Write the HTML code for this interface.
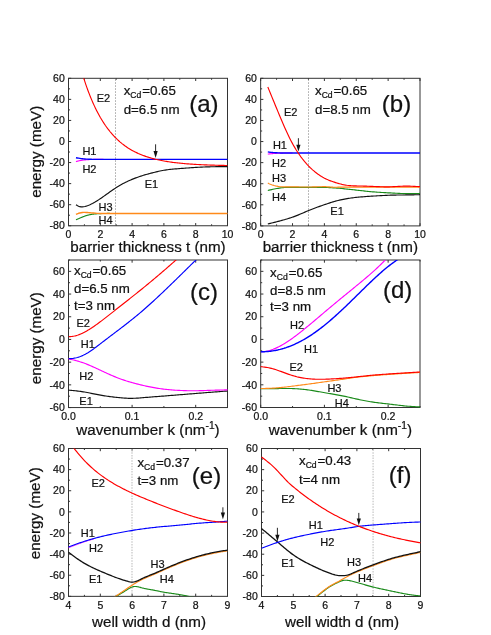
<!DOCTYPE html>
<html><head><meta charset="utf-8"><title>figure</title>
<style>html,body{margin:0;padding:0;background:#fff;}body{width:491px;height:635px;overflow:hidden;font-family:"Liberation Sans", sans-serif;}svg{display:block;will-change:transform;}</style></head>
<body>
<svg width="491" height="635" viewBox="0 0 491 635" font-family='"Liberation Sans", sans-serif' fill="#111">
<style>text{stroke:#111;stroke-width:0.22px;}</style>
<clipPath id="c1"><rect x="68.5" y="78.3" width="159" height="147.45"/></clipPath>
<path d="M68.5 225.75 v-2.7 M68.5 78.3 v2.7 M100.3 225.75 v-2.7 M100.3 78.3 v2.7 M132.1 225.75 v-2.7 M132.1 78.3 v2.7 M163.9 225.75 v-2.7 M163.9 78.3 v2.7 M195.7 225.75 v-2.7 M195.7 78.3 v2.7 M227.5 225.75 v-2.7 M227.5 78.3 v2.7 M84.4 225.75 v-1.5 M84.4 78.3 v1.5 M116.2 225.75 v-1.5 M116.2 78.3 v1.5 M148 225.75 v-1.5 M148 78.3 v1.5 M179.8 225.75 v-1.5 M179.8 78.3 v1.5 M211.6 225.75 v-1.5 M211.6 78.3 v1.5 M68.5 225.75 h2.7 M68.5 204.69 h2.7 M68.5 183.62 h2.7 M68.5 162.56 h2.7 M68.5 141.49 h2.7 M68.5 120.43 h2.7 M68.5 99.36 h2.7 M68.5 78.3 h2.7 M68.5 215.22 h1.5 M68.5 194.15 h1.5 M68.5 173.09 h1.5 M68.5 152.03 h1.5 M68.5 130.96 h1.5 M68.5 109.9 h1.5 M68.5 88.83 h1.5" fill="none" stroke="#333333" stroke-width="1"/>
<rect x="68.5" y="78.3" width="159" height="147.45" fill="none" stroke="#333333" stroke-width="1"/>
<text x="68.5" y="238.05" font-size="10.5" text-anchor="middle">0</text>
<text x="100.3" y="238.05" font-size="10.5" text-anchor="middle">2</text>
<text x="132.1" y="238.05" font-size="10.5" text-anchor="middle">4</text>
<text x="163.9" y="238.05" font-size="10.5" text-anchor="middle">6</text>
<text x="195.7" y="238.05" font-size="10.5" text-anchor="middle">8</text>
<text x="227.5" y="238.05" font-size="10.5" text-anchor="middle">10</text>
<text x="64.8" y="229.45" font-size="10.5" text-anchor="end">-80</text>
<text x="64.8" y="208.39" font-size="10.5" text-anchor="end">-60</text>
<text x="64.8" y="187.32" font-size="10.5" text-anchor="end">-40</text>
<text x="64.8" y="166.26" font-size="10.5" text-anchor="end">-20</text>
<text x="64.8" y="145.19" font-size="10.5" text-anchor="end">0</text>
<text x="64.8" y="124.13" font-size="10.5" text-anchor="end">20</text>
<text x="64.8" y="103.06" font-size="10.5" text-anchor="end">40</text>
<text x="64.8" y="82" font-size="10.5" text-anchor="end">60</text>
<path d="M115.5 79.3 V224.75" stroke="#666" stroke-width="0.6" stroke-dasharray="1.5 1.5" fill="none"/>
<path d="M75.97 161.61 L76.2 161.54 L76.44 161.47 L76.67 161.4 L76.9 161.34 L77.13 161.27 L77.36 161.2 L77.59 161.14 L77.82 161.08 L78.05 161.02 L78.28 160.96 L78.52 160.91 L78.75 160.85 L78.98 160.8 L79.21 160.75 L79.44 160.7 L79.67 160.65 L79.9 160.61 L80.13 160.56 L80.36 160.52 L80.6 160.48 L80.83 160.44 L81.06 160.39 L81.29 160.35 L81.52 160.31 L81.75 160.27 L81.98 160.24 L82.21 160.2 L82.45 160.17 L82.68 160.13 L82.91 160.1 L83.14 160.07 L83.37 160.04 L83.6 160.01 L83.83 159.98 L84.06 159.96 L84.29 159.93 L84.53 159.91 L84.76 159.89 L84.99 159.87 L85.22 159.85 L85.45 159.83 L85.68 159.81 L85.91 159.79 L86.14 159.77 L86.37 159.75 L86.61 159.73 L86.84 159.71 L87.07 159.7 L87.3 159.68 L87.53 159.66 L87.76 159.65 L87.99 159.63 L88.22 159.62 L88.46 159.6 L88.69 159.59 L88.92 159.58 L89.15 159.57 L89.38 159.55 L89.61 159.54 L89.84 159.53 L90.07 159.52 L90.3 159.52 L90.54 159.51 L90.77 159.5 L91 159.5 L91.23 159.49 L91.46 159.48 L91.69 159.48 L91.92 159.47 L92.15 159.47 L92.38 159.46 L92.62 159.46 L92.85 159.45 L93.08 159.45 L93.31 159.44 L93.54 159.44 L93.77 159.43 L94 159.43 L94.23 159.42 L94.47 159.42 L94.7 159.42 L94.93 159.41 L95.16 159.41 L95.39 159.41 L95.62 159.41 L95.85 159.4 L96.08 159.4 L96.31 159.4 L96.55 159.4 L96.78 159.4 L97.01 159.4 L97.24 159.4 L97.47 159.4 L97.7 159.4 L97.93 159.4 L98.16 159.4 L98.39 159.4 L98.63 159.4 L98.86 159.4 L99.09 159.4 L99.32 159.4 L99.55 159.4 L99.78 159.4 L100.01 159.4 L100.24 159.4 L100.48 159.4 L100.71 159.4 L100.94 159.4 L101.17 159.4 L101.4 159.4 L101.63 159.4 L101.86 159.4 L102.09 159.4 L102.32 159.4 L102.56 159.4 L102.79 159.4 L103.02 159.4 L103.25 159.4 L103.48 159.4" fill="none" stroke="#ff00ff" stroke-width="1.15" stroke-linejoin="round"/>
<path d="M75.97 219.85 L76.26 219.72 L76.54 219.58 L76.83 219.45 L77.11 219.32 L77.4 219.19 L77.68 219.06 L77.97 218.93 L78.25 218.8 L78.53 218.67 L78.82 218.55 L79.1 218.42 L79.39 218.3 L79.67 218.18 L79.96 218.05 L80.24 217.94 L80.53 217.82 L80.81 217.7 L81.1 217.58 L81.38 217.47 L81.66 217.36 L81.95 217.24 L82.23 217.12 L82.52 217.01 L82.8 216.89 L83.09 216.77 L83.37 216.66 L83.66 216.54 L83.94 216.43 L84.23 216.32 L84.51 216.21 L84.8 216.1 L85.08 216 L85.36 215.89 L85.65 215.79 L85.93 215.7 L86.22 215.6 L86.5 215.51 L86.79 215.43 L87.07 215.35 L87.36 215.27 L87.64 215.2 L87.93 215.13 L88.21 215.07 L88.5 215 L88.78 214.94 L89.06 214.87 L89.35 214.81 L89.63 214.75 L89.92 214.69 L90.2 214.64 L90.49 214.58 L90.77 214.53 L91.06 214.48 L91.34 214.43 L91.63 214.38 L91.91 214.33 L92.2 214.29 L92.48 214.24 L92.76 214.2 L93.05 214.16 L93.33 214.13 L93.62 214.09 L93.9 214.06 L94.19 214.03 L94.47 214 L94.76 213.97 L95.04 213.95 L95.33 213.92 L95.61 213.89 L95.89 213.87 L96.18 213.84 L96.46 213.81 L96.75 213.79 L97.03 213.77 L97.32 213.75 L97.6 213.72 L97.89 213.7 L98.17 213.69 L98.46 213.67 L98.74 213.65 L99.03 213.64 L99.31 213.62 L99.59 213.61 L99.88 213.6 L100.16 213.59 L100.45 213.58 L100.73 213.57 L101.02 213.57 L101.3 213.56 L101.59 213.55 L101.87 213.54 L102.16 213.54 L102.44 213.53 L102.73 213.52 L103.01 213.52 L103.29 213.51 L103.58 213.5 L103.86 213.5 L104.15 213.49 L104.43 213.48 L104.72 213.48 L105 213.47 L105.29 213.47 L105.57 213.46 L105.86 213.46 L106.14 213.46 L106.42 213.45 L106.71 213.45 L106.99 213.44 L107.28 213.44 L107.56 213.44 L107.85 213.44 L108.13 213.43 L108.42 213.43 L108.7 213.43 L108.99 213.43 L109.27 213.43 L109.56 213.43 L109.84 213.43" fill="none" stroke="#1a8a1a" stroke-width="1.15" stroke-linejoin="round"/>
<path d="M75.97 214.38 L77.25 213.79 L78.52 213.3 L79.79 212.97 L81.07 212.73 L82.34 212.52 L83.61 212.4 L84.89 212.38 L86.16 212.43 L87.43 212.52 L88.71 212.63 L89.98 212.74 L91.25 212.83 L92.53 212.93 L93.8 213.04 L95.07 213.15 L96.35 213.26 L97.62 213.34 L98.89 213.4 L100.17 213.43 L101.44 213.43 L102.71 213.43 L103.99 213.43 L105.26 213.43 L106.53 213.43 L107.81 213.43 L109.08 213.43 L110.35 213.43 L111.63 213.43 L112.9 213.43 L114.17 213.43 L115.45 213.43 L116.72 213.43 L117.99 213.43 L119.27 213.43 L120.54 213.43 L121.81 213.43 L123.09 213.43 L124.36 213.43 L125.63 213.43 L126.91 213.43 L128.18 213.43 L129.45 213.43 L130.73 213.43 L132 213.43 L133.27 213.43 L134.55 213.43 L135.82 213.43 L137.09 213.43 L138.37 213.43 L139.64 213.43 L140.91 213.43 L142.19 213.43 L143.46 213.43 L144.73 213.43 L146.01 213.43 L147.28 213.43 L148.55 213.43 L149.83 213.43 L151.1 213.43 L152.37 213.43 L153.65 213.43 L154.92 213.43 L156.19 213.43 L157.47 213.43 L158.74 213.43 L160.01 213.43 L161.29 213.43 L162.56 213.43 L163.83 213.43 L165.11 213.43 L166.38 213.43 L167.65 213.43 L168.93 213.43 L170.2 213.43 L171.47 213.43 L172.75 213.43 L174.02 213.43 L175.29 213.43 L176.57 213.43 L177.84 213.43 L179.11 213.43 L180.39 213.43 L181.66 213.43 L182.93 213.43 L184.21 213.43 L185.48 213.43 L186.75 213.43 L188.03 213.43 L189.3 213.43 L190.57 213.43 L191.85 213.43 L193.12 213.43 L194.39 213.43 L195.67 213.43 L196.94 213.43 L198.21 213.43 L199.49 213.43 L200.76 213.43 L202.03 213.43 L203.31 213.43 L204.58 213.43 L205.85 213.43 L207.13 213.43 L208.4 213.43 L209.67 213.43 L210.95 213.43 L212.22 213.43 L213.49 213.43 L214.77 213.43 L216.04 213.43 L217.31 213.43 L218.59 213.43 L219.86 213.43 L221.13 213.43 L222.41 213.43 L223.68 213.43 L224.95 213.43 L226.23 213.43 L227.5 213.43" fill="none" stroke="#ff8a1a" stroke-width="1.4" stroke-linejoin="round"/>
<path d="M75.97 204.69 L77.25 205.53 L78.52 206.23 L79.79 206.68 L81.07 206.88 L82.34 206.88 L83.61 206.73 L84.89 206.46 L86.16 206.11 L87.43 205.69 L88.71 205.2 L89.98 204.66 L91.25 204.07 L92.53 203.43 L93.8 202.74 L95.07 202.02 L96.35 201.25 L97.62 200.46 L98.89 199.64 L100.17 198.79 L101.44 197.92 L102.71 197.04 L103.99 196.14 L105.26 195.23 L106.53 194.32 L107.81 193.41 L109.08 192.5 L110.35 191.59 L111.63 190.7 L112.9 189.82 L114.17 188.95 L115.45 188.11 L116.72 187.29 L117.99 186.5 L119.27 185.74 L120.54 185 L121.81 184.29 L123.09 183.6 L124.36 182.93 L125.63 182.29 L126.91 181.67 L128.18 181.07 L129.45 180.49 L130.73 179.94 L132 179.4 L133.27 178.88 L134.55 178.37 L135.82 177.89 L137.09 177.42 L138.37 176.97 L139.64 176.53 L140.91 176.11 L142.19 175.7 L143.46 175.3 L144.73 174.92 L146.01 174.54 L147.28 174.18 L148.55 173.83 L149.83 173.49 L151.1 173.15 L152.37 172.82 L153.65 172.5 L154.92 172.19 L156.19 171.88 L157.47 171.58 L158.74 171.29 L160.01 171.01 L161.29 170.74 L162.56 170.5 L163.83 170.27 L165.11 170.06 L166.38 169.87 L167.65 169.7 L168.93 169.54 L170.2 169.39 L171.47 169.26 L172.75 169.13 L174.02 169.02 L175.29 168.91 L176.57 168.81 L177.84 168.71 L179.11 168.61 L180.39 168.52 L181.66 168.42 L182.93 168.33 L184.21 168.23 L185.48 168.14 L186.75 168.04 L188.03 167.95 L189.3 167.85 L190.57 167.76 L191.85 167.67 L193.12 167.59 L194.39 167.5 L195.67 167.42 L196.94 167.34 L198.21 167.27 L199.49 167.2 L200.76 167.14 L202.03 167.08 L203.31 167.02 L204.58 166.97 L205.85 166.93 L207.13 166.89 L208.4 166.85 L209.67 166.81 L210.95 166.78 L212.22 166.75 L213.49 166.73 L214.77 166.7 L216.04 166.68 L217.31 166.66 L218.59 166.65 L219.86 166.63 L221.13 166.62 L222.41 166.6 L223.68 166.59 L224.95 166.58 L226.23 166.57 L227.5 166.56" fill="none" stroke="#111111" stroke-width="1.15" stroke-linejoin="round"/>
<path d="M75.97 157.71 L77.25 157.95 L78.52 158.17 L79.79 158.37 L81.07 158.57 L82.34 158.75 L83.61 158.91 L84.89 159.01 L86.16 159.09 L87.43 159.17 L88.71 159.22 L89.98 159.27 L91.25 159.3 L92.53 159.33 L93.8 159.36 L95.07 159.38 L96.35 159.4 L97.62 159.4 L98.89 159.4 L100.17 159.4 L101.44 159.4 L102.71 159.4 L103.99 159.4 L105.26 159.4 L106.53 159.4 L107.81 159.4 L109.08 159.4 L110.35 159.4 L111.63 159.4 L112.9 159.4 L114.17 159.4 L115.45 159.4 L116.72 159.4 L117.99 159.4 L119.27 159.4 L120.54 159.4 L121.81 159.4 L123.09 159.4 L124.36 159.4 L125.63 159.4 L126.91 159.4 L128.18 159.4 L129.45 159.4 L130.73 159.4 L132 159.4 L133.27 159.4 L134.55 159.4 L135.82 159.4 L137.09 159.4 L138.37 159.4 L139.64 159.4 L140.91 159.4 L142.19 159.4 L143.46 159.4 L144.73 159.4 L146.01 159.4 L147.28 159.4 L148.55 159.4 L149.83 159.4 L151.1 159.4 L152.37 159.4 L153.65 159.4 L154.92 159.4 L156.19 159.4 L157.47 159.4 L158.74 159.4 L160.01 159.4 L161.29 159.4 L162.56 159.4 L163.83 159.4 L165.11 159.4 L166.38 159.4 L167.65 159.4 L168.93 159.4 L170.2 159.4 L171.47 159.4 L172.75 159.4 L174.02 159.4 L175.29 159.4 L176.57 159.4 L177.84 159.4 L179.11 159.4 L180.39 159.4 L181.66 159.4 L182.93 159.4 L184.21 159.4 L185.48 159.4 L186.75 159.4 L188.03 159.4 L189.3 159.4 L190.57 159.4 L191.85 159.4 L193.12 159.4 L194.39 159.4 L195.67 159.4 L196.94 159.4 L198.21 159.4 L199.49 159.4 L200.76 159.4 L202.03 159.4 L203.31 159.4 L204.58 159.4 L205.85 159.4 L207.13 159.4 L208.4 159.4 L209.67 159.4 L210.95 159.4 L212.22 159.4 L213.49 159.4 L214.77 159.4 L216.04 159.4 L217.31 159.4 L218.59 159.4 L219.86 159.4 L221.13 159.4 L222.41 159.4 L223.68 159.4 L224.95 159.4 L226.23 159.4 L227.5 159.4" fill="none" stroke="#0000ff" stroke-width="1.4" stroke-linejoin="round"/>
<path d="M82.02 72.66 L83.24 76.61 L84.46 80.45 L85.68 84.11 L86.91 87.59 L88.13 90.93 L89.35 94.14 L90.57 97.2 L91.8 100.14 L93.02 102.95 L94.24 105.63 L95.46 108.21 L96.69 110.67 L97.91 113.03 L99.13 115.29 L100.35 117.46 L101.58 119.53 L102.8 121.51 L104.02 123.41 L105.24 125.22 L106.47 126.96 L107.69 128.63 L108.91 130.22 L110.13 131.75 L111.36 133.21 L112.58 134.61 L113.8 135.95 L115.02 137.23 L116.25 138.46 L117.47 139.64 L118.69 140.76 L119.91 141.84 L121.14 142.87 L122.36 143.86 L123.58 144.8 L124.8 145.71 L126.03 146.57 L127.25 147.4 L128.47 148.2 L129.69 148.96 L130.92 149.69 L132.14 150.38 L133.36 151.05 L134.59 151.69 L135.81 152.3 L137.03 152.89 L138.25 153.45 L139.48 153.98 L140.7 154.5 L141.92 154.99 L143.14 155.46 L144.37 155.91 L145.59 156.34 L146.81 156.75 L148.03 157.15 L149.26 157.53 L150.48 157.89 L151.7 158.24 L152.92 158.57 L154.15 158.89 L155.37 159.19 L156.59 159.48 L157.81 159.76 L159.04 160.03 L160.26 160.29 L161.48 160.53 L162.7 160.77 L163.93 160.99 L165.15 161.21 L166.37 161.41 L167.59 161.61 L168.82 161.8 L170.04 161.98 L171.26 162.15 L172.48 162.32 L173.71 162.47 L174.93 162.63 L176.15 162.77 L177.37 162.91 L178.6 163.04 L179.82 163.17 L181.04 163.29 L182.27 163.41 L183.49 163.52 L184.71 163.63 L185.93 163.73 L187.16 163.83 L188.38 163.92 L189.6 164.01 L190.82 164.1 L192.05 164.18 L193.27 164.26 L194.49 164.34 L195.71 164.41 L196.94 164.48 L198.16 164.54 L199.38 164.61 L200.6 164.67 L201.83 164.73 L203.05 164.78 L204.27 164.84 L205.49 164.89 L206.72 164.94 L207.94 164.98 L209.16 165.03 L210.38 165.07 L211.61 165.11 L212.83 165.15 L214.05 165.19 L215.27 165.22 L216.5 165.26 L217.72 165.29 L218.94 165.32 L220.16 165.35 L221.39 165.38 L222.61 165.41 L223.83 165.44 L225.05 165.46 L226.28 165.49 L227.5 165.51" fill="none" stroke="#ff0000" stroke-width="1.15" stroke-linejoin="round" clip-path="url(#c1)"/>
<path d="M155.6 144.3 V152.9" stroke="#111" stroke-width="0.9" fill="none"/>
<path d="M155.6 157.9 L153.5 151.1 L157.7 151.1 Z" fill="#111"/>
<text x="123.7" y="94.6" font-size="13.3" text-anchor="start">x<tspan font-size="8.6" dy="3.3">Cd</tspan><tspan dy="-3.3" dx="0.9">=0.65</tspan></text>
<text x="123.7" y="113.6" font-size="13.3" text-anchor="start">d=6.5 nm</text>
<text x="189.2" y="112.1" font-size="24" text-anchor="start">(a)</text>
<text x="96.7" y="102.1" font-size="11" text-anchor="start">E2</text>
<text x="82.4" y="154.7" font-size="11" text-anchor="start">H1</text>
<text x="82.4" y="173.4" font-size="11" text-anchor="start">H2</text>
<text x="98.5" y="210.6" font-size="11" text-anchor="start">H3</text>
<text x="98.5" y="224.4" font-size="11" text-anchor="start">H4</text>
<text x="144.7" y="188.3" font-size="11" text-anchor="start">E1</text>
<text x="148" y="251.6" font-size="15.2" text-anchor="middle">barrier thickness t (nm)</text>
<clipPath id="c2"><rect x="260.65" y="78.3" width="159.35" height="147.6"/></clipPath>
<path d="M260.65 225.9 v-2.7 M260.65 78.3 v2.7 M292.52 225.9 v-2.7 M292.52 78.3 v2.7 M324.39 225.9 v-2.7 M324.39 78.3 v2.7 M356.26 225.9 v-2.7 M356.26 78.3 v2.7 M388.13 225.9 v-2.7 M388.13 78.3 v2.7 M420 225.9 v-2.7 M420 78.3 v2.7 M276.58 225.9 v-1.5 M276.58 78.3 v1.5 M308.45 225.9 v-1.5 M308.45 78.3 v1.5 M340.32 225.9 v-1.5 M340.32 78.3 v1.5 M372.19 225.9 v-1.5 M372.19 78.3 v1.5 M404.06 225.9 v-1.5 M404.06 78.3 v1.5 M260.65 225.9 h2.7 M260.65 204.81 h2.7 M260.65 183.73 h2.7 M260.65 162.64 h2.7 M260.65 141.56 h2.7 M260.65 120.47 h2.7 M260.65 99.39 h2.7 M260.65 78.3 h2.7 M260.65 215.36 h1.5 M260.65 194.27 h1.5 M260.65 173.19 h1.5 M260.65 152.1 h1.5 M260.65 131.01 h1.5 M260.65 109.93 h1.5 M260.65 88.84 h1.5" fill="none" stroke="#333333" stroke-width="1"/>
<rect x="260.65" y="78.3" width="159.35" height="147.6" fill="none" stroke="#333333" stroke-width="1"/>
<text x="260.65" y="238.2" font-size="10.5" text-anchor="middle">0</text>
<text x="292.52" y="238.2" font-size="10.5" text-anchor="middle">2</text>
<text x="324.39" y="238.2" font-size="10.5" text-anchor="middle">4</text>
<text x="356.26" y="238.2" font-size="10.5" text-anchor="middle">6</text>
<text x="388.13" y="238.2" font-size="10.5" text-anchor="middle">8</text>
<text x="420" y="238.2" font-size="10.5" text-anchor="middle">10</text>
<text x="256.95" y="229.6" font-size="10.5" text-anchor="end">-80</text>
<text x="256.95" y="208.51" font-size="10.5" text-anchor="end">-60</text>
<text x="256.95" y="187.43" font-size="10.5" text-anchor="end">-40</text>
<text x="256.95" y="166.34" font-size="10.5" text-anchor="end">-20</text>
<text x="256.95" y="145.26" font-size="10.5" text-anchor="end">0</text>
<text x="256.95" y="124.17" font-size="10.5" text-anchor="end">20</text>
<text x="256.95" y="103.09" font-size="10.5" text-anchor="end">40</text>
<text x="256.95" y="82" font-size="10.5" text-anchor="end">60</text>
<path d="M308.5 79.3 V224.9" stroke="#666" stroke-width="0.6" stroke-dasharray="1.5 1.5" fill="none"/>
<path d="M267.82 154.1 L268.03 154.08 L268.24 154.05 L268.44 154.03 L268.65 154 L268.86 153.98 L269.07 153.95 L269.27 153.93 L269.48 153.9 L269.69 153.88 L269.9 153.86 L270.1 153.83 L270.31 153.81 L270.52 153.79 L270.73 153.77 L270.93 153.74 L271.14 153.72 L271.35 153.7 L271.56 153.68 L271.76 153.66 L271.97 153.64 L272.18 153.62 L272.39 153.61 L272.59 153.59 L272.8 153.57 L273.01 153.55 L273.22 153.54 L273.42 153.52 L273.63 153.51 L273.84 153.49 L274.05 153.48 L274.26 153.46 L274.46 153.45 L274.67 153.43 L274.88 153.42 L275.09 153.4 L275.29 153.39 L275.5 153.37 L275.71 153.36 L275.92 153.35 L276.12 153.33 L276.33 153.32 L276.54 153.31 L276.75 153.3 L276.95 153.29 L277.16 153.27 L277.37 153.26 L277.58 153.25 L277.78 153.24 L277.99 153.23 L278.2 153.22 L278.41 153.21 L278.61 153.2 L278.82 153.19 L279.03 153.18 L279.24 153.17 L279.44 153.17 L279.65 153.16 L279.86 153.15 L280.07 153.14 L280.27 153.14 L280.48 153.13 L280.69 153.12 L280.9 153.11 L281.1 153.11 L281.31 153.1 L281.52 153.09 L281.73 153.09 L281.93 153.08 L282.14 153.07 L282.35 153.07 L282.56 153.06 L282.76 153.05 L282.97 153.05 L283.18 153.04 L283.39 153.04 L283.6 153.03 L283.8 153.03 L284.01 153.02 L284.22 153.02 L284.43 153.01 L284.63 153.01 L284.84 153.01 L285.05 153 L285.26 153 L285.46 153 L285.67 153 L285.88 153 L286.09 153 L286.29 153 L286.5 153 L286.71 153 L286.92 153 L287.12 153 L287.33 153 L287.54 153 L287.75 153 L287.95 153 L288.16 153 L288.37 153 L288.58 153 L288.78 153 L288.99 153 L289.2 153 L289.41 153 L289.61 153 L289.82 153 L290.03 153 L290.24 153 L290.44 153 L290.65 153 L290.86 153 L291.07 153 L291.27 153 L291.48 153 L291.69 153 L291.9 153 L292.1 153 L292.31 153 L292.52 153" fill="none" stroke="#ff00ff" stroke-width="1.15" stroke-linejoin="round"/>
<path d="M267.82 190.48 L269.1 190.16 L270.38 189.86 L271.66 189.58 L272.94 189.31 L274.21 189.04 L275.49 188.79 L276.77 188.54 L278.05 188.31 L279.33 188.11 L280.61 187.94 L281.89 187.77 L283.17 187.62 L284.45 187.5 L285.72 187.43 L287 187.41 L288.28 187.39 L289.56 187.37 L290.84 187.36 L292.12 187.35 L293.4 187.34 L294.68 187.33 L295.95 187.32 L297.23 187.32 L298.51 187.31 L299.79 187.31 L301.07 187.31 L302.35 187.31 L303.63 187.31 L304.91 187.32 L306.19 187.32 L307.46 187.32 L308.74 187.33 L310.02 187.33 L311.3 187.33 L312.58 187.34 L313.86 187.35 L315.14 187.35 L316.42 187.36 L317.69 187.37 L318.97 187.38 L320.25 187.38 L321.53 187.39 L322.81 187.4 L324.09 187.42 L325.37 187.43 L326.65 187.47 L327.93 187.52 L329.2 187.58 L330.48 187.66 L331.76 187.74 L333.04 187.82 L334.32 187.91 L335.6 187.99 L336.88 188.09 L338.16 188.19 L339.43 188.3 L340.71 188.42 L341.99 188.55 L343.27 188.68 L344.55 188.81 L345.83 188.95 L347.11 189.09 L348.39 189.23 L349.67 189.37 L350.94 189.51 L352.22 189.65 L353.5 189.78 L354.78 189.92 L356.06 190.06 L357.34 190.2 L358.62 190.35 L359.9 190.5 L361.17 190.65 L362.45 190.8 L363.73 190.94 L365.01 191.09 L366.29 191.23 L367.57 191.36 L368.85 191.49 L370.13 191.61 L371.4 191.72 L372.68 191.82 L373.96 191.92 L375.24 192.01 L376.52 192.11 L377.8 192.2 L379.08 192.28 L380.36 192.37 L381.64 192.45 L382.91 192.53 L384.19 192.6 L385.47 192.68 L386.75 192.75 L388.03 192.82 L389.31 192.88 L390.59 192.94 L391.87 193.01 L393.14 193.08 L394.42 193.15 L395.7 193.22 L396.98 193.28 L398.26 193.35 L399.54 193.41 L400.82 193.46 L402.1 193.51 L403.38 193.56 L404.65 193.59 L405.93 193.62 L407.21 193.63 L408.49 193.64 L409.77 193.64 L411.05 193.63 L412.33 193.62 L413.61 193.6 L414.88 193.58 L416.16 193.55 L417.44 193.52 L418.72 193.48 L420 193.43" fill="none" stroke="#1a8a1a" stroke-width="1.15" stroke-linejoin="round"/>
<path d="M267.82 183.1 L269.1 183.7 L270.38 184.25 L271.66 184.73 L272.94 185.17 L274.21 185.57 L275.49 185.92 L276.77 186.19 L278.05 186.42 L279.33 186.62 L280.61 186.75 L281.89 186.8 L283.17 186.82 L284.45 186.83 L285.72 186.85 L287 186.86 L288.28 186.86 L289.56 186.87 L290.84 186.88 L292.12 186.89 L293.4 186.9 L294.68 186.91 L295.95 186.92 L297.23 186.93 L298.51 186.94 L299.79 186.95 L301.07 186.96 L302.35 186.97 L303.63 186.98 L304.91 186.99 L306.19 186.99 L307.46 187 L308.74 187 L310.02 186.99 L311.3 186.97 L312.58 186.94 L313.86 186.91 L315.14 186.88 L316.42 186.84 L317.69 186.8 L318.97 186.77 L320.25 186.73 L321.53 186.71 L322.81 186.69 L324.09 186.68 L325.37 186.69 L326.65 186.74 L327.93 186.82 L329.2 186.91 L330.48 187.01 L331.76 187.09 L333.04 187.16 L334.32 187.2 L335.6 187.21 L336.88 187.2 L338.16 187.19 L339.43 187.18 L340.71 187.17 L341.99 187.15 L343.27 187.14 L344.55 187.12 L345.83 187.11 L347.11 187.1 L348.39 187.1 L349.67 187.1 L350.94 187.1 L352.22 187.1 L353.5 187.1 L354.78 187.1 L356.06 187.1 L357.34 187.1 L358.62 187.1 L359.9 187.1 L361.17 187.1 L362.45 187.1 L363.73 187.1 L365.01 187.1 L366.29 187.1 L367.57 187.1 L368.85 187.1 L370.13 187.1 L371.4 187.1 L372.68 187.1 L373.96 187.1 L375.24 187.1 L376.52 187.1 L377.8 187.1 L379.08 187.1 L380.36 187.1 L381.64 187.1 L382.91 187.1 L384.19 187.1 L385.47 187.1 L386.75 187.1 L388.03 187.1 L389.31 187.1 L390.59 187.1 L391.87 187.1 L393.14 187.1 L394.42 187.1 L395.7 187.1 L396.98 187.1 L398.26 187.1 L399.54 187.1 L400.82 187.1 L402.1 187.1 L403.38 187.1 L404.65 187.1 L405.93 187.1 L407.21 187.1 L408.49 187.1 L409.77 187.1 L411.05 187.1 L412.33 187.1 L413.61 187.1 L414.88 187.1 L416.16 187.1 L417.44 187.1 L418.72 187.1 L420 187.1" fill="none" stroke="#ff8a1a" stroke-width="1.15" stroke-linejoin="round"/>
<path d="M267.82 224 L269.1 223.68 L270.38 223.37 L271.66 223.05 L272.94 222.72 L274.21 222.4 L275.49 222.07 L276.77 221.75 L278.05 221.41 L279.33 221.08 L280.61 220.73 L281.89 220.39 L283.17 220.03 L284.45 219.68 L285.72 219.31 L287 218.93 L288.28 218.54 L289.56 218.14 L290.84 217.72 L292.12 217.29 L293.4 216.85 L294.68 216.38 L295.95 215.89 L297.23 215.39 L298.51 214.87 L299.79 214.33 L301.07 213.79 L302.35 213.23 L303.63 212.68 L304.91 212.12 L306.19 211.57 L307.46 211.03 L308.74 210.49 L310.02 209.97 L311.3 209.46 L312.58 208.96 L313.86 208.47 L315.14 207.99 L316.42 207.52 L317.69 207.06 L318.97 206.6 L320.25 206.14 L321.53 205.7 L322.81 205.25 L324.09 204.81 L325.37 204.37 L326.65 203.94 L327.93 203.51 L329.2 203.09 L330.48 202.67 L331.76 202.27 L333.04 201.88 L334.32 201.5 L335.6 201.14 L336.88 200.8 L338.16 200.48 L339.43 200.17 L340.71 199.87 L341.99 199.59 L343.27 199.33 L344.55 199.08 L345.83 198.85 L347.11 198.62 L348.39 198.42 L349.67 198.22 L350.94 198.03 L352.22 197.86 L353.5 197.7 L354.78 197.54 L356.06 197.4 L357.34 197.27 L358.62 197.14 L359.9 197.03 L361.17 196.91 L362.45 196.81 L363.73 196.71 L365.01 196.62 L366.29 196.53 L367.57 196.44 L368.85 196.35 L370.13 196.27 L371.4 196.19 L372.68 196.11 L373.96 196.03 L375.24 195.95 L376.52 195.87 L377.8 195.79 L379.08 195.72 L380.36 195.65 L381.64 195.58 L382.91 195.51 L384.19 195.45 L385.47 195.39 L386.75 195.33 L388.03 195.28 L389.31 195.23 L390.59 195.19 L391.87 195.16 L393.14 195.12 L394.42 195.1 L395.7 195.07 L396.98 195.05 L398.26 195.03 L399.54 195.01 L400.82 194.99 L402.1 194.98 L403.38 194.96 L404.65 194.95 L405.93 194.94 L407.21 194.92 L408.49 194.9 L409.77 194.88 L411.05 194.86 L412.33 194.84 L413.61 194.82 L414.88 194.79 L416.16 194.77 L417.44 194.74 L418.72 194.72 L420 194.69" fill="none" stroke="#111111" stroke-width="1.15" stroke-linejoin="round"/>
<path d="M267.82 151.89 L269.1 152.08 L270.38 152.26 L271.66 152.41 L272.94 152.54 L274.21 152.64 L275.49 152.73 L276.77 152.8 L278.05 152.87 L279.33 152.91 L280.61 152.94 L281.89 152.96 L283.17 152.98 L284.45 152.99 L285.72 153 L287 153 L288.28 153 L289.56 153 L290.84 153 L292.12 153 L293.4 153 L294.68 153 L295.95 153 L297.23 153 L298.51 153 L299.79 153 L301.07 153 L302.35 153 L303.63 153 L304.91 153 L306.19 153 L307.46 153 L308.74 153 L310.02 153 L311.3 153 L312.58 153 L313.86 153 L315.14 153 L316.42 153 L317.69 153 L318.97 153 L320.25 153 L321.53 153 L322.81 153 L324.09 153 L325.37 153 L326.65 153 L327.93 153 L329.2 153 L330.48 153 L331.76 153 L333.04 153 L334.32 153 L335.6 153 L336.88 153 L338.16 153 L339.43 153 L340.71 153 L341.99 153 L343.27 153 L344.55 153 L345.83 153 L347.11 153 L348.39 153 L349.67 153 L350.94 153 L352.22 153 L353.5 153 L354.78 153 L356.06 153 L357.34 153 L358.62 153 L359.9 153 L361.17 153 L362.45 153 L363.73 153 L365.01 153 L366.29 153 L367.57 153 L368.85 153 L370.13 153 L371.4 153 L372.68 153 L373.96 153 L375.24 153 L376.52 153 L377.8 153 L379.08 153 L380.36 153 L381.64 153 L382.91 153 L384.19 153 L385.47 153 L386.75 153 L388.03 153 L389.31 153 L390.59 153 L391.87 153 L393.14 153 L394.42 153 L395.7 153 L396.98 153 L398.26 153 L399.54 153 L400.82 153 L402.1 153 L403.38 153 L404.65 153 L405.93 153 L407.21 153 L408.49 153 L409.77 153 L411.05 153 L412.33 153 L413.61 153 L414.88 153 L416.16 153 L417.44 153 L418.72 153 L420 153" fill="none" stroke="#0000ff" stroke-width="1.4" stroke-linejoin="round"/>
<path d="M267.82 87.05 L269.1 90.15 L270.38 93.25 L271.66 96.35 L272.94 99.46 L274.21 102.57 L275.49 105.68 L276.77 108.78 L278.05 111.86 L279.33 114.93 L280.61 117.98 L281.89 121 L283.17 123.98 L284.45 126.91 L285.72 129.78 L287 132.59 L288.28 135.31 L289.56 137.95 L290.84 140.47 L292.12 142.89 L293.4 145.19 L294.68 147.39 L295.95 149.49 L297.23 151.5 L298.51 153.43 L299.79 155.28 L301.07 157.07 L302.35 158.77 L303.63 160.41 L304.91 161.97 L306.19 163.46 L307.46 164.87 L308.74 166.21 L310.02 167.47 L311.3 168.67 L312.58 169.82 L313.86 170.91 L315.14 171.96 L316.42 172.96 L317.69 173.92 L318.97 174.83 L320.25 175.69 L321.53 176.51 L322.81 177.27 L324.09 177.98 L325.37 178.64 L326.65 179.25 L327.93 179.82 L329.2 180.35 L330.48 180.84 L331.76 181.31 L333.04 181.75 L334.32 182.17 L335.6 182.58 L336.88 182.97 L338.16 183.35 L339.43 183.71 L340.71 184.05 L341.99 184.36 L343.27 184.64 L344.55 184.89 L345.83 185.11 L347.11 185.3 L348.39 185.45 L349.67 185.58 L350.94 185.69 L352.22 185.77 L353.5 185.83 L354.78 185.88 L356.06 185.92 L357.34 185.95 L358.62 185.97 L359.9 186 L361.17 186.02 L362.45 186.04 L363.73 186.08 L365.01 186.11 L366.29 186.16 L367.57 186.21 L368.85 186.26 L370.13 186.31 L371.4 186.37 L372.68 186.43 L373.96 186.49 L375.24 186.54 L376.52 186.6 L377.8 186.65 L379.08 186.69 L380.36 186.74 L381.64 186.77 L382.91 186.8 L384.19 186.82 L385.47 186.83 L386.75 186.84 L388.03 186.83 L389.31 186.81 L390.59 186.77 L391.87 186.73 L393.14 186.68 L394.42 186.61 L395.7 186.55 L396.98 186.48 L398.26 186.41 L399.54 186.34 L400.82 186.28 L402.1 186.23 L403.38 186.19 L404.65 186.16 L405.93 186.14 L407.21 186.14 L408.49 186.16 L409.77 186.19 L411.05 186.22 L412.33 186.27 L413.61 186.33 L414.88 186.39 L416.16 186.46 L417.44 186.53 L418.72 186.6 L420 186.68" fill="none" stroke="#ff0000" stroke-width="1.15" stroke-linejoin="round"/>
<path d="M298.4 138.2 V146.6" stroke="#111" stroke-width="0.9" fill="none"/>
<path d="M298.4 151.6 L296.3 144.8 L300.5 144.8 Z" fill="#111"/>
<text x="315" y="94.6" font-size="13.3" text-anchor="start">x<tspan font-size="8.6" dy="3.3">Cd</tspan><tspan dy="-3.3" dx="0.9">=0.65</tspan></text>
<text x="315" y="113.6" font-size="13.3" text-anchor="start">d=8.5 nm</text>
<text x="381.8" y="112.1" font-size="24" text-anchor="start">(b)</text>
<text x="283.9" y="115.8" font-size="11" text-anchor="start">E2</text>
<text x="272.9" y="148.8" font-size="11" text-anchor="start">H1</text>
<text x="272" y="166.6" font-size="11" text-anchor="start">H2</text>
<text x="272" y="182.2" font-size="11" text-anchor="start">H3</text>
<text x="272" y="201" font-size="11" text-anchor="start">H4</text>
<text x="330.3" y="214.8" font-size="11" text-anchor="start">E1</text>
<text x="340.32" y="251.6" font-size="15.2" text-anchor="middle">barrier thickness t (nm)</text>
<clipPath id="c3"><rect x="68.5" y="260" width="159" height="147.55"/></clipPath>
<path d="M68.5 407.55 v-2.7 M68.5 260 v2.7 M132.1 407.55 v-2.7 M132.1 260 v2.7 M195.7 407.55 v-2.7 M195.7 260 v2.7 M100.3 407.55 v-1.5 M100.3 260 v1.5 M163.9 407.55 v-1.5 M163.9 260 v1.5 M227.5 407.55 v-1.5 M227.5 260 v1.5 M68.5 407.55 h2.7 M68.5 384.85 h2.7 M68.5 362.15 h2.7 M68.5 339.45 h2.7 M68.5 316.75 h2.7 M68.5 294.05 h2.7 M68.5 271.35 h2.7 M68.5 396.2 h1.5 M68.5 373.5 h1.5 M68.5 350.8 h1.5 M68.5 328.1 h1.5 M68.5 305.4 h1.5 M68.5 282.7 h1.5 M68.5 260 h1.5" fill="none" stroke="#333333" stroke-width="1"/>
<rect x="68.5" y="260" width="159" height="147.55" fill="none" stroke="#333333" stroke-width="1"/>
<text x="68.5" y="419.85" font-size="10.5" text-anchor="middle">0.0</text>
<text x="132.1" y="419.85" font-size="10.5" text-anchor="middle">0.1</text>
<text x="195.7" y="419.85" font-size="10.5" text-anchor="middle">0.2</text>
<text x="64.8" y="411.25" font-size="10.5" text-anchor="end">-60</text>
<text x="64.8" y="388.55" font-size="10.5" text-anchor="end">-40</text>
<text x="64.8" y="365.85" font-size="10.5" text-anchor="end">-20</text>
<text x="64.8" y="343.15" font-size="10.5" text-anchor="end">0</text>
<text x="64.8" y="320.45" font-size="10.5" text-anchor="end">20</text>
<text x="64.8" y="297.75" font-size="10.5" text-anchor="end">40</text>
<text x="64.8" y="275.05" font-size="10.5" text-anchor="end">60</text>
<path d="M68.5 390.07 L69.84 390.2 L71.17 390.33 L72.51 390.47 L73.84 390.61 L75.18 390.76 L76.52 390.91 L77.85 391.07 L79.19 391.24 L80.53 391.42 L81.86 391.62 L83.2 391.83 L84.53 392.05 L85.87 392.29 L87.21 392.53 L88.54 392.79 L89.88 393.05 L91.21 393.32 L92.55 393.59 L93.89 393.86 L95.22 394.13 L96.56 394.4 L97.89 394.67 L99.23 394.92 L100.57 395.17 L101.9 395.41 L103.24 395.63 L104.58 395.84 L105.91 396.05 L107.25 396.24 L108.58 396.43 L109.92 396.6 L111.26 396.77 L112.59 396.93 L113.93 397.08 L115.26 397.23 L116.6 397.37 L117.94 397.51 L119.27 397.64 L120.61 397.77 L121.95 397.89 L123.28 398 L124.62 398.11 L125.95 398.19 L127.29 398.27 L128.63 398.32 L129.96 398.35 L131.3 398.36 L132.63 398.34 L133.97 398.29 L135.31 398.23 L136.64 398.16 L137.98 398.07 L139.32 397.97 L140.65 397.87 L141.99 397.76 L143.32 397.65 L144.66 397.55 L146 397.44 L147.33 397.33 L148.67 397.22 L150 397.12 L151.34 397.01 L152.68 396.9 L154.01 396.8 L155.35 396.69 L156.68 396.58 L158.02 396.48 L159.36 396.37 L160.69 396.27 L162.03 396.16 L163.37 396.06 L164.7 395.96 L166.04 395.85 L167.37 395.75 L168.71 395.64 L170.05 395.54 L171.38 395.43 L172.72 395.32 L174.05 395.22 L175.39 395.11 L176.73 395 L178.06 394.9 L179.4 394.79 L180.74 394.68 L182.07 394.57 L183.41 394.47 L184.74 394.36 L186.08 394.25 L187.42 394.14 L188.75 394.03 L190.09 393.93 L191.42 393.82 L192.76 393.71 L194.1 393.6 L195.43 393.5 L196.77 393.39 L198.11 393.28 L199.44 393.18 L200.78 393.07 L202.11 392.97 L203.45 392.86 L204.79 392.75 L206.12 392.65 L207.46 392.54 L208.79 392.44 L210.13 392.33 L211.47 392.23 L212.8 392.12 L214.14 392.02 L215.47 391.92 L216.81 391.81 L218.15 391.71 L219.48 391.6 L220.82 391.5 L222.16 391.39 L223.49 391.29 L224.83 391.19 L226.16 391.08 L227.5 390.98" fill="none" stroke="#111111" stroke-width="1.15" stroke-linejoin="round"/>
<path d="M68.5 358.75 L69.84 359.07 L71.17 359.39 L72.51 359.72 L73.84 360.06 L75.18 360.41 L76.52 360.77 L77.85 361.14 L79.19 361.53 L80.53 361.94 L81.86 362.37 L83.2 362.83 L84.53 363.31 L85.87 363.82 L87.21 364.34 L88.54 364.89 L89.88 365.45 L91.21 366.03 L92.55 366.63 L93.89 367.23 L95.22 367.84 L96.56 368.46 L97.89 369.08 L99.23 369.71 L100.57 370.34 L101.9 370.97 L103.24 371.59 L104.58 372.21 L105.91 372.83 L107.25 373.43 L108.58 374.04 L109.92 374.63 L111.26 375.22 L112.59 375.79 L113.93 376.35 L115.26 376.9 L116.6 377.44 L117.94 377.97 L119.27 378.47 L120.61 378.96 L121.95 379.44 L123.28 379.9 L124.62 380.34 L125.95 380.78 L127.29 381.19 L128.63 381.6 L129.96 381.99 L131.3 382.38 L132.63 382.75 L133.97 383.11 L135.31 383.47 L136.64 383.82 L137.98 384.16 L139.32 384.5 L140.65 384.82 L141.99 385.15 L143.32 385.46 L144.66 385.77 L146 386.07 L147.33 386.36 L148.67 386.64 L150 386.91 L151.34 387.18 L152.68 387.43 L154.01 387.67 L155.35 387.91 L156.68 388.13 L158.02 388.34 L159.36 388.54 L160.69 388.73 L162.03 388.91 L163.37 389.08 L164.7 389.24 L166.04 389.39 L167.37 389.53 L168.71 389.66 L170.05 389.79 L171.38 389.9 L172.72 390.01 L174.05 390.11 L175.39 390.2 L176.73 390.28 L178.06 390.36 L179.4 390.43 L180.74 390.49 L182.07 390.55 L183.41 390.6 L184.74 390.64 L186.08 390.68 L187.42 390.71 L188.75 390.73 L190.09 390.75 L191.42 390.76 L192.76 390.77 L194.1 390.76 L195.43 390.75 L196.77 390.74 L198.11 390.72 L199.44 390.69 L200.78 390.65 L202.11 390.62 L203.45 390.58 L204.79 390.53 L206.12 390.49 L207.46 390.44 L208.79 390.4 L210.13 390.35 L211.47 390.3 L212.8 390.26 L214.14 390.22 L215.47 390.17 L216.81 390.13 L218.15 390.1 L219.48 390.06 L220.82 390.02 L222.16 389.98 L223.49 389.95 L224.83 389.91 L226.16 389.88 L227.5 389.84" fill="none" stroke="#ff00ff" stroke-width="1.15" stroke-linejoin="round"/>
<path d="M68.5 358.75 L69.62 358.67 L70.74 358.58 L71.87 358.48 L72.99 358.35 L74.11 358.19 L75.23 357.99 L76.36 357.75 L77.48 357.46 L78.6 357.13 L79.72 356.75 L80.85 356.33 L81.97 355.86 L83.09 355.35 L84.21 354.8 L85.34 354.2 L86.46 353.57 L87.58 352.91 L88.7 352.21 L89.82 351.48 L90.95 350.73 L92.07 349.96 L93.19 349.16 L94.31 348.34 L95.44 347.51 L96.56 346.67 L97.68 345.82 L98.8 344.96 L99.93 344.1 L101.05 343.24 L102.17 342.38 L103.29 341.52 L104.42 340.67 L105.54 339.81 L106.66 338.96 L107.78 338.11 L108.9 337.26 L110.03 336.41 L111.15 335.56 L112.27 334.71 L113.39 333.86 L114.52 333.01 L115.64 332.16 L116.76 331.31 L117.88 330.45 L119.01 329.6 L120.13 328.75 L121.25 327.89 L122.37 327.03 L123.5 326.17 L124.62 325.3 L125.74 324.43 L126.86 323.56 L127.98 322.68 L129.11 321.8 L130.23 320.92 L131.35 320.02 L132.47 319.13 L133.6 318.22 L134.72 317.31 L135.84 316.39 L136.96 315.47 L138.09 314.53 L139.21 313.59 L140.33 312.64 L141.45 311.69 L142.58 310.72 L143.7 309.75 L144.82 308.77 L145.94 307.78 L147.06 306.79 L148.19 305.79 L149.31 304.79 L150.43 303.78 L151.55 302.76 L152.68 301.73 L153.8 300.71 L154.92 299.67 L156.04 298.63 L157.17 297.59 L158.29 296.54 L159.41 295.49 L160.53 294.43 L161.66 293.37 L162.78 292.31 L163.9 291.24 L165.02 290.17 L166.14 289.09 L167.27 288.01 L168.39 286.93 L169.51 285.85 L170.63 284.76 L171.76 283.67 L172.88 282.58 L174 281.49 L175.12 280.39 L176.25 279.29 L177.37 278.2 L178.49 277.1 L179.61 275.99 L180.74 274.89 L181.86 273.79 L182.98 272.68 L184.1 271.58 L185.22 270.48 L186.35 269.37 L187.47 268.27 L188.59 267.16 L189.71 266.06 L190.84 264.96 L191.96 263.85 L193.08 262.75 L194.2 261.65 L195.33 260.55 L196.45 259.46 L197.57 258.36 L198.69 257.26 L199.82 256.17 L200.94 255.08 L202.06 253.98" fill="none" stroke="#0000ff" stroke-width="1.15" stroke-linejoin="round" clip-path="url(#c3)"/>
<path d="M68.5 336.73 L69.46 336.65 L70.42 336.57 L71.39 336.47 L72.35 336.36 L73.31 336.22 L74.27 336.05 L75.23 335.85 L76.2 335.6 L77.16 335.32 L78.12 335 L79.08 334.65 L80.04 334.26 L81.01 333.85 L81.97 333.41 L82.93 332.95 L83.89 332.47 L84.85 331.97 L85.82 331.44 L86.78 330.9 L87.74 330.34 L88.7 329.77 L89.66 329.17 L90.63 328.57 L91.59 327.94 L92.55 327.31 L93.51 326.66 L94.47 326 L95.44 325.32 L96.4 324.64 L97.36 323.95 L98.32 323.25 L99.28 322.54 L100.25 321.82 L101.21 321.1 L102.17 320.37 L103.13 319.64 L104.09 318.9 L105.06 318.16 L106.02 317.41 L106.98 316.66 L107.94 315.91 L108.9 315.16 L109.87 314.4 L110.83 313.64 L111.79 312.88 L112.75 312.12 L113.71 311.35 L114.68 310.59 L115.64 309.82 L116.6 309.06 L117.56 308.29 L118.52 307.53 L119.49 306.77 L120.45 306 L121.41 305.24 L122.37 304.48 L123.33 303.73 L124.3 302.97 L125.26 302.21 L126.22 301.45 L127.18 300.7 L128.15 299.94 L129.11 299.18 L130.07 298.42 L131.03 297.66 L131.99 296.91 L132.96 296.15 L133.92 295.38 L134.88 294.62 L135.84 293.86 L136.8 293.09 L137.77 292.32 L138.73 291.55 L139.69 290.78 L140.65 290 L141.61 289.22 L142.58 288.44 L143.54 287.66 L144.5 286.88 L145.46 286.09 L146.42 285.3 L147.39 284.51 L148.35 283.72 L149.31 282.92 L150.27 282.12 L151.23 281.32 L152.2 280.52 L153.16 279.72 L154.12 278.91 L155.08 278.1 L156.04 277.29 L157.01 276.48 L157.97 275.66 L158.93 274.84 L159.89 274.02 L160.85 273.2 L161.82 272.37 L162.78 271.55 L163.74 270.72 L164.7 269.89 L165.66 269.06 L166.63 268.22 L167.59 267.38 L168.55 266.55 L169.51 265.7 L170.47 264.86 L171.44 264.02 L172.4 263.17 L173.36 262.32 L174.32 261.47 L175.28 260.62 L176.25 259.77 L177.21 258.91 L178.17 258.06 L179.13 257.2 L180.09 256.34 L181.06 255.48 L182.02 254.62 L182.98 253.76" fill="none" stroke="#ff0000" stroke-width="1.15" stroke-linejoin="round" clip-path="url(#c3)"/>
<text x="74" y="274.8" font-size="13.3" text-anchor="start">x<tspan font-size="8.6" dy="3.3">Cd</tspan><tspan dy="-3.3" dx="0.9">=0.65</tspan></text>
<text x="74" y="293.4" font-size="13.3" text-anchor="start">d=6.5 nm</text>
<text x="74" y="309.9" font-size="13.3" text-anchor="start">t=3 nm</text>
<text x="190" y="299.9" font-size="24" text-anchor="start">(c)</text>
<text x="76.5" y="327.4" font-size="11" text-anchor="start">E2</text>
<text x="80.7" y="347.6" font-size="11" text-anchor="start">H1</text>
<text x="79.3" y="379.6" font-size="11" text-anchor="start">H2</text>
<text x="79.3" y="404.9" font-size="11" text-anchor="start">E1</text>
<text x="148" y="434.6" font-size="15.2" text-anchor="middle">wavenumber k (nm<tspan font-size="10.2" dy="-5.6">-1</tspan><tspan dy="5.6">)</tspan></text>
<clipPath id="c4"><rect x="260.7" y="260" width="159.3" height="147.5"/></clipPath>
<path d="M260.7 407.5 v-2.7 M260.7 260 v2.7 M324.42 407.5 v-2.7 M324.42 260 v2.7 M388.14 407.5 v-2.7 M388.14 260 v2.7 M292.56 407.5 v-1.5 M292.56 260 v1.5 M356.28 407.5 v-1.5 M356.28 260 v1.5 M420 407.5 v-1.5 M420 260 v1.5 M260.7 407.5 h2.7 M260.7 384.81 h2.7 M260.7 362.12 h2.7 M260.7 339.42 h2.7 M260.7 316.73 h2.7 M260.7 294.04 h2.7 M260.7 271.35 h2.7 M260.7 396.15 h1.5 M260.7 373.46 h1.5 M260.7 350.77 h1.5 M260.7 328.08 h1.5 M260.7 305.38 h1.5 M260.7 282.69 h1.5 M260.7 260 h1.5" fill="none" stroke="#333333" stroke-width="1"/>
<rect x="260.7" y="260" width="159.3" height="147.5" fill="none" stroke="#333333" stroke-width="1"/>
<text x="260.7" y="419.8" font-size="10.5" text-anchor="middle">0.0</text>
<text x="324.42" y="419.8" font-size="10.5" text-anchor="middle">0.1</text>
<text x="388.14" y="419.8" font-size="10.5" text-anchor="middle">0.2</text>
<text x="257" y="411.2" font-size="10.5" text-anchor="end">-60</text>
<text x="257" y="388.51" font-size="10.5" text-anchor="end">-40</text>
<text x="257" y="365.82" font-size="10.5" text-anchor="end">-20</text>
<text x="257" y="343.12" font-size="10.5" text-anchor="end">0</text>
<text x="257" y="320.43" font-size="10.5" text-anchor="end">20</text>
<text x="257" y="297.74" font-size="10.5" text-anchor="end">40</text>
<text x="257" y="275.05" font-size="10.5" text-anchor="end">60</text>
<path d="M260.7 388.67 L262.04 388.66 L263.38 388.65 L264.72 388.65 L266.05 388.64 L267.39 388.64 L268.73 388.63 L270.07 388.62 L271.41 388.61 L272.75 388.6 L274.09 388.59 L275.43 388.58 L276.76 388.57 L278.1 388.56 L279.44 388.54 L280.78 388.53 L282.12 388.51 L283.46 388.5 L284.8 388.49 L286.13 388.49 L287.47 388.49 L288.81 388.5 L290.15 388.52 L291.49 388.55 L292.83 388.59 L294.17 388.65 L295.51 388.71 L296.84 388.79 L298.18 388.88 L299.52 388.98 L300.86 389.09 L302.2 389.22 L303.54 389.36 L304.88 389.51 L306.21 389.68 L307.55 389.86 L308.89 390.04 L310.23 390.24 L311.57 390.44 L312.91 390.66 L314.25 390.87 L315.58 391.1 L316.92 391.33 L318.26 391.56 L319.6 391.79 L320.94 392.03 L322.28 392.27 L323.62 392.5 L324.96 392.74 L326.29 392.98 L327.63 393.22 L328.97 393.46 L330.31 393.69 L331.65 393.93 L332.99 394.16 L334.33 394.38 L335.66 394.61 L337 394.84 L338.34 395.08 L339.68 395.32 L341.02 395.56 L342.36 395.82 L343.7 396.08 L345.04 396.36 L346.37 396.65 L347.71 396.95 L349.05 397.26 L350.39 397.58 L351.73 397.9 L353.07 398.21 L354.41 398.53 L355.74 398.83 L357.08 399.13 L358.42 399.42 L359.76 399.71 L361.1 399.99 L362.44 400.26 L363.78 400.53 L365.12 400.78 L366.45 401.03 L367.79 401.27 L369.13 401.5 L370.47 401.72 L371.81 401.93 L373.15 402.13 L374.49 402.32 L375.82 402.5 L377.16 402.67 L378.5 402.84 L379.84 403 L381.18 403.16 L382.52 403.32 L383.86 403.47 L385.19 403.62 L386.53 403.77 L387.87 403.93 L389.21 404.08 L390.55 404.24 L391.89 404.4 L393.23 404.56 L394.57 404.73 L395.9 404.89 L397.24 405.05 L398.58 405.22 L399.92 405.38 L401.26 405.53 L402.6 405.68 L403.94 405.82 L405.27 405.96 L406.61 406.08 L407.95 406.2 L409.29 406.3 L410.63 406.4 L411.97 406.49 L413.31 406.58 L414.65 406.65 L415.98 406.73 L417.32 406.8 L418.66 406.87 L420 406.93" fill="none" stroke="#1a8a1a" stroke-width="1.15" stroke-linejoin="round"/>
<path d="M260.7 388.55 L262.04 388.52 L263.38 388.49 L264.72 388.45 L266.05 388.41 L267.39 388.37 L268.73 388.33 L270.07 388.28 L271.41 388.22 L272.75 388.15 L274.09 388.08 L275.43 388 L276.76 387.9 L278.1 387.8 L279.44 387.68 L280.78 387.56 L282.12 387.42 L283.46 387.27 L284.8 387.12 L286.13 386.96 L287.47 386.8 L288.81 386.63 L290.15 386.46 L291.49 386.29 L292.83 386.12 L294.17 385.95 L295.51 385.78 L296.84 385.61 L298.18 385.44 L299.52 385.27 L300.86 385.1 L302.2 384.93 L303.54 384.75 L304.88 384.58 L306.21 384.4 L307.55 384.22 L308.89 384.04 L310.23 383.86 L311.57 383.68 L312.91 383.49 L314.25 383.31 L315.58 383.12 L316.92 382.93 L318.26 382.73 L319.6 382.54 L320.94 382.35 L322.28 382.16 L323.62 381.97 L324.96 381.78 L326.29 381.58 L327.63 381.39 L328.97 381.21 L330.31 381.02 L331.65 380.83 L332.99 380.65 L334.33 380.46 L335.66 380.27 L337 380.08 L338.34 379.9 L339.68 379.71 L341.02 379.51 L342.36 379.32 L343.7 379.12 L345.04 378.92 L346.37 378.72 L347.71 378.51 L349.05 378.31 L350.39 378.11 L351.73 377.91 L353.07 377.72 L354.41 377.53 L355.74 377.36 L357.08 377.19 L358.42 377.03 L359.76 376.88 L361.1 376.74 L362.44 376.6 L363.78 376.46 L365.12 376.33 L366.45 376.21 L367.79 376.08 L369.13 375.97 L370.47 375.85 L371.81 375.74 L373.15 375.63 L374.49 375.52 L375.82 375.41 L377.16 375.3 L378.5 375.19 L379.84 375.09 L381.18 374.99 L382.52 374.88 L383.86 374.78 L385.19 374.68 L386.53 374.59 L387.87 374.49 L389.21 374.4 L390.55 374.3 L391.89 374.21 L393.23 374.12 L394.57 374.03 L395.9 373.94 L397.24 373.85 L398.58 373.76 L399.92 373.67 L401.26 373.59 L402.6 373.5 L403.94 373.42 L405.27 373.33 L406.61 373.25 L407.95 373.17 L409.29 373.09 L410.63 373 L411.97 372.92 L413.31 372.84 L414.65 372.76 L415.98 372.68 L417.32 372.6 L418.66 372.52 L420 372.44" fill="none" stroke="#ff8a1a" stroke-width="1.15" stroke-linejoin="round"/>
<path d="M260.7 366.65 L262.04 366.8 L263.38 366.96 L264.72 367.13 L266.05 367.32 L267.39 367.54 L268.73 367.8 L270.07 368.09 L271.41 368.41 L272.75 368.77 L274.09 369.16 L275.43 369.56 L276.76 370 L278.1 370.45 L279.44 370.92 L280.78 371.41 L282.12 371.9 L283.46 372.4 L284.8 372.9 L286.13 373.4 L287.47 373.89 L288.81 374.36 L290.15 374.82 L291.49 375.26 L292.83 375.67 L294.17 376.06 L295.51 376.42 L296.84 376.76 L298.18 377.07 L299.52 377.36 L300.86 377.63 L302.2 377.87 L303.54 378.09 L304.88 378.29 L306.21 378.47 L307.55 378.63 L308.89 378.77 L310.23 378.89 L311.57 378.99 L312.91 379.08 L314.25 379.15 L315.58 379.2 L316.92 379.24 L318.26 379.26 L319.6 379.28 L320.94 379.28 L322.28 379.26 L323.62 379.24 L324.96 379.21 L326.29 379.17 L327.63 379.12 L328.97 379.06 L330.31 379 L331.65 378.93 L332.99 378.86 L334.33 378.78 L335.66 378.7 L337 378.62 L338.34 378.53 L339.68 378.43 L341.02 378.33 L342.36 378.23 L343.7 378.12 L345.04 378.01 L346.37 377.89 L347.71 377.77 L349.05 377.64 L350.39 377.51 L351.73 377.37 L353.07 377.24 L354.41 377.1 L355.74 376.96 L357.08 376.81 L358.42 376.67 L359.76 376.53 L361.1 376.38 L362.44 376.24 L363.78 376.1 L365.12 375.96 L366.45 375.82 L367.79 375.68 L369.13 375.54 L370.47 375.41 L371.81 375.28 L373.15 375.16 L374.49 375.04 L375.82 374.93 L377.16 374.81 L378.5 374.7 L379.84 374.6 L381.18 374.49 L382.52 374.39 L383.86 374.3 L385.19 374.2 L386.53 374.11 L387.87 374.01 L389.21 373.92 L390.55 373.83 L391.89 373.75 L393.23 373.66 L394.57 373.57 L395.9 373.49 L397.24 373.4 L398.58 373.31 L399.92 373.23 L401.26 373.15 L402.6 373.06 L403.94 372.98 L405.27 372.89 L406.61 372.81 L407.95 372.73 L409.29 372.64 L410.63 372.56 L411.97 372.48 L413.31 372.4 L414.65 372.31 L415.98 372.23 L417.32 372.15 L418.66 372.07 L420 371.99" fill="none" stroke="#ff0000" stroke-width="1.15" stroke-linejoin="round"/>
<path d="M260.7 351.79 L261.82 351.75 L262.95 351.69 L264.07 351.59 L265.2 351.44 L266.32 351.25 L267.45 351.01 L268.57 350.74 L269.7 350.43 L270.82 350.09 L271.94 349.71 L273.07 349.3 L274.19 348.86 L275.32 348.39 L276.44 347.89 L277.57 347.36 L278.69 346.81 L279.82 346.22 L280.94 345.62 L282.06 344.99 L283.19 344.34 L284.31 343.66 L285.44 342.97 L286.56 342.26 L287.69 341.52 L288.81 340.77 L289.94 340.01 L291.06 339.22 L292.19 338.43 L293.31 337.62 L294.43 336.79 L295.56 335.95 L296.68 335.1 L297.81 334.24 L298.93 333.37 L300.06 332.5 L301.18 331.61 L302.31 330.71 L303.43 329.81 L304.55 328.9 L305.68 327.98 L306.8 327.06 L307.93 326.13 L309.05 325.2 L310.18 324.26 L311.3 323.32 L312.43 322.38 L313.55 321.44 L314.67 320.49 L315.8 319.54 L316.92 318.59 L318.05 317.64 L319.17 316.69 L320.3 315.74 L321.42 314.79 L322.55 313.83 L323.67 312.88 L324.79 311.93 L325.92 310.99 L327.04 310.04 L328.17 309.09 L329.29 308.15 L330.42 307.2 L331.54 306.26 L332.67 305.32 L333.79 304.39 L334.92 303.45 L336.04 302.52 L337.16 301.58 L338.29 300.65 L339.41 299.73 L340.54 298.8 L341.66 297.88 L342.79 296.95 L343.91 296.03 L345.04 295.11 L346.16 294.19 L347.28 293.28 L348.41 292.36 L349.53 291.44 L350.66 290.52 L351.78 289.61 L352.91 288.69 L354.03 287.77 L355.16 286.85 L356.28 285.93 L357.4 285.01 L358.53 284.09 L359.65 283.16 L360.78 282.23 L361.9 281.29 L363.03 280.35 L364.15 279.41 L365.28 278.46 L366.4 277.51 L367.52 276.54 L368.65 275.58 L369.77 274.6 L370.9 273.62 L372.02 272.62 L373.15 271.62 L374.27 270.6 L375.4 269.58 L376.52 268.54 L377.64 267.49 L378.77 266.43 L379.89 265.35 L381.02 264.25 L382.14 263.14 L383.27 262.02 L384.39 260.87 L385.52 259.7 L386.64 258.52 L387.77 257.31 L388.89 256.09 L390.01 254.84 L391.14 253.56 L392.26 252.25 L393.39 250.92 L394.51 249.58" fill="none" stroke="#ff00ff" stroke-width="1.15" stroke-linejoin="round" clip-path="url(#c4)"/>
<path d="M260.7 351.79 L261.91 351.77 L263.12 351.75 L264.33 351.71 L265.54 351.65 L266.75 351.56 L267.96 351.46 L269.17 351.34 L270.38 351.2 L271.59 351.04 L272.8 350.87 L274.01 350.67 L275.22 350.45 L276.43 350.21 L277.64 349.96 L278.85 349.68 L280.06 349.39 L281.27 349.07 L282.48 348.73 L283.69 348.38 L284.9 348 L286.11 347.61 L287.32 347.19 L288.53 346.76 L289.74 346.3 L290.95 345.82 L292.16 345.33 L293.37 344.81 L294.58 344.28 L295.79 343.73 L297 343.15 L298.21 342.56 L299.42 341.95 L300.63 341.32 L301.84 340.67 L303.06 340 L304.27 339.31 L305.48 338.6 L306.69 337.88 L307.9 337.13 L309.11 336.37 L310.32 335.59 L311.53 334.8 L312.74 333.98 L313.95 333.15 L315.16 332.31 L316.37 331.44 L317.58 330.56 L318.79 329.67 L320 328.76 L321.21 327.83 L322.42 326.89 L323.63 325.93 L324.84 324.96 L326.05 323.97 L327.26 322.98 L328.47 321.96 L329.68 320.94 L330.89 319.9 L332.1 318.85 L333.31 317.79 L334.52 316.72 L335.73 315.64 L336.94 314.54 L338.15 313.44 L339.36 312.33 L340.57 311.2 L341.78 310.07 L342.99 308.94 L344.2 307.79 L345.41 306.64 L346.62 305.48 L347.83 304.31 L349.04 303.14 L350.25 301.97 L351.46 300.79 L352.67 299.61 L353.88 298.42 L355.09 297.24 L356.3 296.05 L357.51 294.86 L358.72 293.67 L359.93 292.47 L361.14 291.28 L362.35 290.1 L363.56 288.91 L364.77 287.73 L365.98 286.55 L367.19 285.37 L368.4 284.2 L369.61 283.04 L370.82 281.88 L372.03 280.73 L373.24 279.59 L374.45 278.45 L375.66 277.33 L376.87 276.22 L378.08 275.11 L379.29 274.02 L380.5 272.95 L381.71 271.88 L382.92 270.84 L384.13 269.8 L385.34 268.78 L386.56 267.79 L387.77 266.8 L388.98 265.84 L390.19 264.9 L391.4 263.98 L392.61 263.08 L393.82 262.2 L395.03 261.35 L396.24 260.52 L397.45 259.72 L398.66 258.94 L399.87 258.19 L401.08 257.47 L402.29 256.79 L403.5 256.14 L404.71 255.5" fill="none" stroke="#0000ff" stroke-width="1.4" stroke-linejoin="round" clip-path="url(#c4)"/>
<text x="270.1" y="276.6" font-size="13.3" text-anchor="start">x<tspan font-size="8.6" dy="3.3">Cd</tspan><tspan dy="-3.3" dx="0.9">=0.65</tspan></text>
<text x="270.1" y="295.3" font-size="13.3" text-anchor="start">d=8.5 nm</text>
<text x="270.1" y="310.9" font-size="13.3" text-anchor="start">t=3 nm</text>
<text x="383" y="298.1" font-size="24" text-anchor="start">(d)</text>
<text x="290" y="329.2" font-size="11" text-anchor="start">H2</text>
<text x="304.1" y="353.1" font-size="11" text-anchor="start">H1</text>
<text x="289.4" y="371.3" font-size="11" text-anchor="start">E2</text>
<text x="327.4" y="391.5" font-size="11" text-anchor="start">H3</text>
<text x="334.7" y="406.7" font-size="11" text-anchor="start">H4</text>
<text x="340.35" y="434.6" font-size="15.2" text-anchor="middle">wavenumber k (nm<tspan font-size="10.2" dy="-5.6">-1</tspan><tspan dy="5.6">)</tspan></text>
<clipPath id="c5"><rect x="68.5" y="448.5" width="159" height="147.85"/></clipPath>
<path d="M68.5 596.35 v-2.7 M68.5 448.5 v2.7 M100.3 596.35 v-2.7 M100.3 448.5 v2.7 M132.1 596.35 v-2.7 M132.1 448.5 v2.7 M163.9 596.35 v-2.7 M163.9 448.5 v2.7 M195.7 596.35 v-2.7 M195.7 448.5 v2.7 M227.5 596.35 v-2.7 M227.5 448.5 v2.7 M84.4 596.35 v-1.5 M84.4 448.5 v1.5 M116.2 596.35 v-1.5 M116.2 448.5 v1.5 M148 596.35 v-1.5 M148 448.5 v1.5 M179.8 596.35 v-1.5 M179.8 448.5 v1.5 M211.6 596.35 v-1.5 M211.6 448.5 v1.5 M68.5 596.35 h2.7 M68.5 575.23 h2.7 M68.5 554.11 h2.7 M68.5 532.99 h2.7 M68.5 511.86 h2.7 M68.5 490.74 h2.7 M68.5 469.62 h2.7 M68.5 448.5 h2.7 M68.5 585.79 h1.5 M68.5 564.67 h1.5 M68.5 543.55 h1.5 M68.5 522.42 h1.5 M68.5 501.3 h1.5 M68.5 480.18 h1.5 M68.5 459.06 h1.5" fill="none" stroke="#333333" stroke-width="1"/>
<rect x="68.5" y="448.5" width="159" height="147.85" fill="none" stroke="#333333" stroke-width="1"/>
<text x="68.5" y="608.65" font-size="10.5" text-anchor="middle">4</text>
<text x="100.3" y="608.65" font-size="10.5" text-anchor="middle">5</text>
<text x="132.1" y="608.65" font-size="10.5" text-anchor="middle">6</text>
<text x="163.9" y="608.65" font-size="10.5" text-anchor="middle">7</text>
<text x="195.7" y="608.65" font-size="10.5" text-anchor="middle">8</text>
<text x="227.5" y="608.65" font-size="10.5" text-anchor="middle">9</text>
<text x="64.8" y="600.05" font-size="10.5" text-anchor="end">-80</text>
<text x="64.8" y="578.93" font-size="10.5" text-anchor="end">-60</text>
<text x="64.8" y="557.81" font-size="10.5" text-anchor="end">-40</text>
<text x="64.8" y="536.69" font-size="10.5" text-anchor="end">-20</text>
<text x="64.8" y="515.56" font-size="10.5" text-anchor="end">0</text>
<text x="64.8" y="494.44" font-size="10.5" text-anchor="end">20</text>
<text x="64.8" y="473.32" font-size="10.5" text-anchor="end">40</text>
<text x="64.8" y="452.2" font-size="10.5" text-anchor="end">60</text>
<path d="M132 449.5 V595.35" stroke="#cdcdcd" stroke-width="1.4" stroke-dasharray="1.5 1.2" fill="none"/>
<path d="M113.02 599.52 L113.7 598.88 L114.38 598.25 L115.06 597.63 L115.75 597.04 L116.43 596.49 L117.11 595.96 L117.79 595.47 L118.47 595.01 L119.15 594.57 L119.83 594.15 L120.52 593.74 L121.2 593.35 L121.88 592.95 L122.56 592.55 L123.24 592.15 L123.92 591.74 L124.6 591.31 L125.29 590.87 L125.97 590.42 L126.65 589.98 L127.33 589.53 L128.01 589.1 L128.69 588.68 L129.37 588.29 L130.06 587.92 L130.74 587.58 L131.42 587.29 L132.1 587.03 L132.78 586.82 L133.46 586.66 L134.14 586.55 L134.83 586.49 L135.51 586.49 L136.19 586.54 L136.87 586.62 L137.55 586.74 L138.23 586.88 L138.91 587.05 L139.6 587.23 L140.28 587.42 L140.96 587.61 L141.64 587.8 L142.32 587.97 L143 588.14 L143.68 588.3 L144.37 588.45 L145.05 588.6 L145.73 588.74 L146.41 588.87 L147.09 589 L147.77 589.12 L148.45 589.24 L149.14 589.36 L149.82 589.48 L150.5 589.59 L151.18 589.71 L151.86 589.82 L152.54 589.94 L153.22 590.06 L153.91 590.19 L154.59 590.31 L155.27 590.44 L155.95 590.58 L156.63 590.72 L157.31 590.86 L157.99 591 L158.68 591.15 L159.36 591.29 L160.04 591.44 L160.72 591.58 L161.4 591.72 L162.08 591.85 L162.76 591.99 L163.45 592.11 L164.13 592.24 L164.81 592.36 L165.49 592.47 L166.17 592.58 L166.85 592.69 L167.53 592.79 L168.22 592.9 L168.9 593 L169.58 593.1 L170.26 593.19 L170.94 593.29 L171.62 593.38 L172.3 593.48 L172.99 593.57 L173.67 593.67 L174.35 593.76 L175.03 593.86 L175.71 593.96 L176.39 594.06 L177.07 594.16 L177.76 594.26 L178.44 594.37 L179.12 594.48 L179.8 594.59 L180.48 594.71 L181.16 594.83 L181.84 594.96 L182.53 595.09 L183.21 595.22 L183.89 595.36 L184.57 595.49 L185.25 595.63 L185.93 595.78 L186.61 595.92 L187.3 596.06 L187.98 596.2 L188.66 596.34 L189.34 596.48 L190.02 596.61 L190.7 596.75 L191.38 596.88 L192.07 597.01 L192.75 597.14 L193.43 597.28 L194.11 597.41" fill="none" stroke="#1a8a1a" stroke-width="1.15" stroke-linejoin="round" clip-path="url(#c5)"/>
<path d="M111.43 598.99 L112.41 598.37 L113.38 597.76 L114.36 597.13 L115.33 596.5 L116.31 595.86 L117.28 595.21 L118.26 594.56 L119.23 593.89 L120.21 593.22 L121.18 592.55 L122.16 591.88 L123.13 591.2 L124.11 590.53 L125.09 589.85 L126.06 589.18 L127.04 588.51 L128.01 587.85 L128.99 587.2 L129.96 586.55 L130.94 585.92 L131.91 585.29 L132.89 584.68 L133.86 584.08 L134.84 583.49 L135.81 582.91 L136.79 582.35 L137.77 581.8 L138.74 581.27 L139.72 580.75 L140.69 580.25 L141.67 579.76 L142.64 579.28 L143.62 578.82 L144.59 578.38 L145.57 577.94 L146.54 577.51 L147.52 577.09 L148.49 576.67 L149.47 576.26 L150.45 575.85 L151.42 575.45 L152.4 575.04 L153.37 574.63 L154.35 574.21 L155.32 573.79 L156.3 573.36 L157.27 572.93 L158.25 572.49 L159.22 572.05 L160.2 571.61 L161.17 571.17 L162.15 570.73 L163.13 570.29 L164.1 569.85 L165.08 569.42 L166.05 568.99 L167.03 568.56 L168 568.14 L168.98 567.71 L169.95 567.29 L170.93 566.88 L171.9 566.47 L172.88 566.06 L173.85 565.65 L174.83 565.25 L175.8 564.86 L176.78 564.46 L177.76 564.07 L178.73 563.69 L179.71 563.31 L180.68 562.93 L181.66 562.56 L182.63 562.19 L183.61 561.83 L184.58 561.47 L185.56 561.12 L186.53 560.77 L187.51 560.43 L188.48 560.09 L189.46 559.76 L190.44 559.43 L191.41 559.11 L192.39 558.79 L193.36 558.48 L194.34 558.18 L195.31 557.87 L196.29 557.58 L197.26 557.29 L198.24 557.01 L199.21 556.73 L200.19 556.45 L201.16 556.19 L202.14 555.93 L203.12 555.67 L204.09 555.42 L205.07 555.17 L206.04 554.93 L207.02 554.7 L207.99 554.47 L208.97 554.25 L209.94 554.03 L210.92 553.82 L211.89 553.61 L212.87 553.4 L213.84 553.2 L214.82 553.01 L215.8 552.82 L216.77 552.64 L217.75 552.46 L218.72 552.28 L219.7 552.11 L220.67 551.94 L221.65 551.78 L222.62 551.62 L223.6 551.46 L224.57 551.3 L225.55 551.14 L226.52 550.99 L227.5 550.83" fill="none" stroke="#ff8a1a" stroke-width="1.15" stroke-linejoin="round" clip-path="url(#c5)"/>
<path d="M68.5 552.31 L69.84 553.31 L71.17 554.3 L72.51 555.28 L73.84 556.26 L75.18 557.22 L76.52 558.17 L77.85 559.1 L79.19 560.01 L80.53 560.9 L81.86 561.75 L83.2 562.58 L84.53 563.38 L85.87 564.14 L87.21 564.88 L88.54 565.6 L89.88 566.29 L91.21 566.96 L92.55 567.61 L93.89 568.24 L95.22 568.86 L96.56 569.47 L97.89 570.07 L99.23 570.65 L100.57 571.23 L101.9 571.81 L103.24 572.39 L104.58 572.96 L105.91 573.52 L107.25 574.08 L108.58 574.63 L109.92 575.18 L111.26 575.72 L112.59 576.24 L113.93 576.76 L115.26 577.27 L116.6 577.76 L117.94 578.25 L119.27 578.72 L120.61 579.17 L121.95 579.61 L123.28 580.04 L124.62 580.45 L125.95 580.85 L127.29 581.24 L128.63 581.6 L129.96 581.9 L131.3 582.08 L132.63 582.1 L133.97 581.95 L135.31 581.65 L136.64 581.2 L137.98 580.63 L139.32 579.99 L140.65 579.32 L141.99 578.65 L143.32 578.02 L144.66 577.42 L146 576.84 L147.33 576.29 L148.67 575.75 L150 575.22 L151.34 574.69 L152.68 574.15 L154.01 573.61 L155.35 573.04 L156.68 572.46 L158.02 571.87 L159.36 571.27 L160.69 570.66 L162.03 570.05 L163.37 569.44 L164.7 568.84 L166.04 568.25 L167.37 567.66 L168.71 567.08 L170.05 566.5 L171.38 565.94 L172.72 565.38 L174.05 564.82 L175.39 564.28 L176.73 563.74 L178.06 563.21 L179.4 562.69 L180.74 562.17 L182.07 561.67 L183.41 561.17 L184.74 560.68 L186.08 560.2 L187.42 559.73 L188.75 559.27 L190.09 558.81 L191.42 558.37 L192.76 557.94 L194.1 557.51 L195.43 557.1 L196.77 556.7 L198.11 556.31 L199.44 555.92 L200.78 555.55 L202.11 555.19 L203.45 554.84 L204.79 554.5 L206.12 554.18 L207.46 553.86 L208.79 553.55 L210.13 553.25 L211.47 552.96 L212.8 552.68 L214.14 552.41 L215.47 552.14 L216.81 551.89 L218.15 551.64 L219.48 551.41 L220.82 551.18 L222.16 550.95 L223.49 550.73 L224.83 550.52 L226.16 550.31 L227.5 550.09" fill="none" stroke="#111111" stroke-width="1.3" stroke-linejoin="round"/>
<path d="M68.5 547.77 L68.71 547.69 L68.93 547.61 L69.14 547.53 L69.36 547.44 L69.57 547.36 L69.78 547.28 L70 547.2 L70.21 547.12 L70.42 547.04 L70.64 546.96 L70.85 546.87 L71.07 546.79 L71.28 546.71 L71.49 546.63 L71.71 546.55 L71.92 546.47 L72.13 546.38 L72.35 546.3 L72.56 546.22 L72.78 546.14 L72.99 546.06 L73.2 545.98 L73.42 545.89 L73.63 545.81 L73.84 545.73 L74.06 545.65 L74.27 545.57 L74.49 545.48 L74.7 545.4 L74.91 545.32 L75.13 545.24 L75.34 545.16 L75.55 545.08 L75.77 544.99 L75.98 544.91 L76.2 544.83 L76.41 544.75 L76.62 544.67 L76.84 544.58 L77.05 544.5 L77.27 544.42 L77.48 544.34 L77.69 544.26 L77.91 544.18 L78.12 544.1 L78.33 544.02 L78.55 543.94 L78.76 543.86 L78.98 543.78 L79.19 543.7 L79.4 543.62 L79.62 543.54 L79.83 543.46 L80.04 543.38 L80.26 543.3 L80.47 543.22 L80.69 543.14 L80.9 543.06 L81.11 542.99 L81.33 542.91 L81.54 542.83 L81.75 542.76 L81.97 542.68 L82.18 542.6 L82.4 542.53 L82.61 542.45 L82.82 542.38 L83.04 542.31 L83.25 542.23 L83.46 542.16 L83.68 542.09 L83.89 542.01 L84.11 541.94 L84.32 541.87 L84.53 541.8 L84.75 541.73 L84.96 541.66 L85.17 541.59 L85.39 541.52 L85.6 541.45 L85.82 541.38 L86.03 541.31 L86.24 541.24 L86.46 541.17 L86.67 541.1 L86.89 541.04 L87.1 540.97 L87.31 540.9 L87.53 540.83 L87.74 540.77 L87.95 540.7 L88.17 540.63 L88.38 540.57 L88.6 540.5 L88.81 540.44 L89.02 540.37 L89.24 540.31 L89.45 540.24 L89.66 540.18 L89.88 540.11 L90.09 540.05 L90.31 539.98 L90.52 539.92 L90.73 539.85 L90.95 539.79 L91.16 539.72 L91.37 539.66 L91.59 539.6 L91.8 539.53 L92.02 539.47 L92.23 539.41 L92.44 539.34 L92.66 539.28 L92.87 539.22 L93.08 539.15 L93.3 539.09 L93.51 539.03 L93.73 538.96 L93.94 538.9" fill="none" stroke="#ff00ff" stroke-width="1" stroke-linejoin="round"/>
<path d="M68.5 546.93 L69.84 546.44 L71.17 545.95 L72.51 545.46 L73.84 544.98 L75.18 544.5 L76.52 544.02 L77.85 543.55 L79.19 543.08 L80.53 542.62 L81.86 542.17 L83.2 541.73 L84.53 541.29 L85.87 540.87 L87.21 540.45 L88.54 540.04 L89.88 539.65 L91.21 539.25 L92.55 538.87 L93.89 538.5 L95.22 538.13 L96.56 537.77 L97.89 537.42 L99.23 537.08 L100.57 536.75 L101.9 536.42 L103.24 536.1 L104.58 535.79 L105.91 535.48 L107.25 535.18 L108.58 534.89 L109.92 534.6 L111.26 534.32 L112.59 534.04 L113.93 533.77 L115.26 533.5 L116.6 533.24 L117.94 532.98 L119.27 532.73 L120.61 532.47 L121.95 532.22 L123.28 531.98 L124.62 531.74 L125.95 531.5 L127.29 531.26 L128.63 531.03 L129.96 530.81 L131.3 530.58 L132.63 530.37 L133.97 530.15 L135.31 529.94 L136.64 529.73 L137.98 529.53 L139.32 529.33 L140.65 529.14 L141.99 528.95 L143.32 528.77 L144.66 528.59 L146 528.41 L147.33 528.24 L148.67 528.08 L150 527.91 L151.34 527.76 L152.68 527.61 L154.01 527.46 L155.35 527.32 L156.68 527.18 L158.02 527.05 L159.36 526.92 L160.69 526.79 L162.03 526.67 L163.37 526.55 L164.7 526.43 L166.04 526.32 L167.37 526.2 L168.71 526.09 L170.05 525.97 L171.38 525.86 L172.72 525.74 L174.05 525.63 L175.39 525.51 L176.73 525.39 L178.06 525.27 L179.4 525.15 L180.74 525.02 L182.07 524.89 L183.41 524.76 L184.74 524.62 L186.08 524.49 L187.42 524.35 L188.75 524.21 L190.09 524.07 L191.42 523.93 L192.76 523.8 L194.1 523.66 L195.43 523.53 L196.77 523.41 L198.11 523.29 L199.44 523.17 L200.78 523.06 L202.11 522.96 L203.45 522.86 L204.79 522.76 L206.12 522.67 L207.46 522.58 L208.79 522.5 L210.13 522.41 L211.47 522.33 L212.8 522.24 L214.14 522.15 L215.47 522.07 L216.81 521.98 L218.15 521.88 L219.48 521.79 L220.82 521.69 L222.16 521.58 L223.49 521.48 L224.83 521.37 L226.16 521.27 L227.5 521.16" fill="none" stroke="#0000ff" stroke-width="1.15" stroke-linejoin="round"/>
<path d="M70.09 442.85 L71.41 444.71 L72.74 446.54 L74.06 448.33 L75.38 450.05 L76.7 451.72 L78.03 453.34 L79.35 454.92 L80.67 456.45 L81.99 457.94 L83.32 459.39 L84.64 460.79 L85.96 462.16 L87.29 463.48 L88.61 464.77 L89.93 466.02 L91.25 467.24 L92.58 468.42 L93.9 469.58 L95.22 470.7 L96.55 471.78 L97.87 472.84 L99.19 473.88 L100.51 474.88 L101.84 475.86 L103.16 476.81 L104.48 477.74 L105.8 478.64 L107.13 479.53 L108.45 480.39 L109.77 481.23 L111.1 482.05 L112.42 482.85 L113.74 483.64 L115.06 484.41 L116.39 485.16 L117.71 485.9 L119.03 486.62 L120.36 487.32 L121.68 488.02 L123 488.7 L124.32 489.37 L125.65 490.03 L126.97 490.67 L128.29 491.31 L129.61 491.94 L130.94 492.55 L132.26 493.16 L133.58 493.77 L134.91 494.36 L136.23 494.95 L137.55 495.53 L138.87 496.1 L140.2 496.67 L141.52 497.23 L142.84 497.79 L144.17 498.34 L145.49 498.89 L146.81 499.43 L148.13 499.97 L149.46 500.51 L150.78 501.04 L152.1 501.57 L153.42 502.1 L154.75 502.62 L156.07 503.14 L157.39 503.66 L158.72 504.17 L160.04 504.69 L161.36 505.2 L162.68 505.7 L164.01 506.21 L165.33 506.71 L166.65 507.21 L167.98 507.71 L169.3 508.2 L170.62 508.7 L171.94 509.19 L173.27 509.67 L174.59 510.16 L175.91 510.64 L177.23 511.11 L178.56 511.58 L179.88 512.05 L181.2 512.52 L182.53 512.97 L183.85 513.43 L185.17 513.88 L186.49 514.32 L187.82 514.76 L189.14 515.19 L190.46 515.61 L191.79 516.02 L193.11 516.43 L194.43 516.83 L195.75 517.22 L197.08 517.6 L198.4 517.97 L199.72 518.33 L201.04 518.68 L202.37 519.02 L203.69 519.34 L205.01 519.65 L206.34 519.95 L207.66 520.23 L208.98 520.5 L210.3 520.75 L211.63 520.99 L212.95 521.2 L214.27 521.4 L215.6 521.58 L216.92 521.74 L218.24 521.88 L219.56 521.99 L220.89 522.08 L222.21 522.15 L223.53 522.2 L224.85 522.21 L226.18 522.19 L227.5 522.17" fill="none" stroke="#ff0000" stroke-width="1.15" stroke-linejoin="round" clip-path="url(#c5)"/>
<path d="M222.9 507.3 V514.2" stroke="#111" stroke-width="0.9" fill="none"/>
<path d="M222.9 519.2 L220.8 512.4 L225 512.4 Z" fill="#111"/>
<text x="137.4" y="466.8" font-size="13.3" text-anchor="start">x<tspan font-size="8.6" dy="3.3">Cd</tspan><tspan dy="-3.3" dx="0.9">=0.37</tspan></text>
<text x="137.4" y="484.9" font-size="13.3" text-anchor="start">t=3 nm</text>
<text x="191.8" y="484" font-size="24" text-anchor="start">(e)</text>
<text x="91.5" y="486.7" font-size="11" text-anchor="start">E2</text>
<text x="80.7" y="536.6" font-size="11" text-anchor="start">H1</text>
<text x="89" y="551.8" font-size="11" text-anchor="start">H2</text>
<text x="89" y="583.3" font-size="11" text-anchor="start">E1</text>
<text x="150.6" y="567.7" font-size="11" text-anchor="start">H3</text>
<text x="159.8" y="582.9" font-size="11" text-anchor="start">H4</text>
<text x="149" y="626.6" font-size="15.2" text-anchor="middle">well width d (nm)</text>
<clipPath id="c6"><rect x="261.5" y="448.5" width="159" height="148"/></clipPath>
<path d="M261.5 596.5 v-2.7 M261.5 448.5 v2.7 M293.3 596.5 v-2.7 M293.3 448.5 v2.7 M325.1 596.5 v-2.7 M325.1 448.5 v2.7 M356.9 596.5 v-2.7 M356.9 448.5 v2.7 M388.7 596.5 v-2.7 M388.7 448.5 v2.7 M420.5 596.5 v-2.7 M420.5 448.5 v2.7 M277.4 596.5 v-1.5 M277.4 448.5 v1.5 M309.2 596.5 v-1.5 M309.2 448.5 v1.5 M341 596.5 v-1.5 M341 448.5 v1.5 M372.8 596.5 v-1.5 M372.8 448.5 v1.5 M404.6 596.5 v-1.5 M404.6 448.5 v1.5 M261.5 596.5 h2.7 M261.5 575.36 h2.7 M261.5 554.21 h2.7 M261.5 533.07 h2.7 M261.5 511.93 h2.7 M261.5 490.79 h2.7 M261.5 469.64 h2.7 M261.5 448.5 h2.7 M261.5 585.93 h1.5 M261.5 564.79 h1.5 M261.5 543.64 h1.5 M261.5 522.5 h1.5 M261.5 501.36 h1.5 M261.5 480.21 h1.5 M261.5 459.07 h1.5" fill="none" stroke="#333333" stroke-width="1"/>
<rect x="261.5" y="448.5" width="159" height="148" fill="none" stroke="#333333" stroke-width="1"/>
<text x="261.5" y="608.8" font-size="10.5" text-anchor="middle">4</text>
<text x="293.3" y="608.8" font-size="10.5" text-anchor="middle">5</text>
<text x="325.1" y="608.8" font-size="10.5" text-anchor="middle">6</text>
<text x="356.9" y="608.8" font-size="10.5" text-anchor="middle">7</text>
<text x="388.7" y="608.8" font-size="10.5" text-anchor="middle">8</text>
<text x="420.5" y="608.8" font-size="10.5" text-anchor="middle">9</text>
<text x="257.8" y="600.2" font-size="10.5" text-anchor="end">-80</text>
<text x="257.8" y="579.06" font-size="10.5" text-anchor="end">-60</text>
<text x="257.8" y="557.91" font-size="10.5" text-anchor="end">-40</text>
<text x="257.8" y="536.77" font-size="10.5" text-anchor="end">-20</text>
<text x="257.8" y="515.63" font-size="10.5" text-anchor="end">0</text>
<text x="257.8" y="494.49" font-size="10.5" text-anchor="end">20</text>
<text x="257.8" y="473.34" font-size="10.5" text-anchor="end">40</text>
<text x="257.8" y="452.2" font-size="10.5" text-anchor="end">60</text>
<path d="M373.1 449.5 V595.5" stroke="#cdcdcd" stroke-width="1.4" stroke-dasharray="1.5 1.2" fill="none"/>
<path d="M312.38 599.67 L313.29 599.06 L314.2 598.45 L315.11 597.82 L316.01 597.18 L316.92 596.51 L317.83 595.82 L318.74 595.11 L319.65 594.39 L320.56 593.65 L321.47 592.91 L322.37 592.16 L323.28 591.42 L324.19 590.69 L325.1 589.97 L326.01 589.27 L326.92 588.59 L327.83 587.94 L328.73 587.32 L329.64 586.73 L330.55 586.18 L331.46 585.66 L332.37 585.16 L333.28 584.69 L334.19 584.23 L335.09 583.78 L336 583.35 L336.91 582.92 L337.82 582.49 L338.73 582.05 L339.64 581.63 L340.55 581.23 L341.45 580.88 L342.36 580.6 L343.27 580.39 L344.18 580.27 L345.09 580.22 L346 580.23 L346.91 580.27 L347.81 580.36 L348.72 580.49 L349.63 580.65 L350.54 580.83 L351.45 581.04 L352.36 581.26 L353.27 581.49 L354.17 581.74 L355.08 581.98 L355.99 582.23 L356.9 582.49 L357.81 582.74 L358.72 583 L359.63 583.26 L360.53 583.52 L361.44 583.79 L362.35 584.05 L363.26 584.31 L364.17 584.57 L365.08 584.83 L365.99 585.09 L366.89 585.35 L367.8 585.61 L368.71 585.86 L369.62 586.11 L370.53 586.36 L371.44 586.6 L372.35 586.84 L373.25 587.07 L374.16 587.3 L375.07 587.52 L375.98 587.74 L376.89 587.96 L377.8 588.17 L378.71 588.37 L379.61 588.57 L380.52 588.77 L381.43 588.97 L382.34 589.17 L383.25 589.36 L384.16 589.55 L385.07 589.74 L385.97 589.93 L386.88 590.12 L387.79 590.31 L388.7 590.5 L389.61 590.69 L390.52 590.88 L391.43 591.07 L392.33 591.26 L393.24 591.46 L394.15 591.65 L395.06 591.85 L395.97 592.04 L396.88 592.23 L397.79 592.43 L398.69 592.62 L399.6 592.8 L400.51 592.99 L401.42 593.17 L402.33 593.35 L403.24 593.53 L404.15 593.7 L405.05 593.87 L405.96 594.03 L406.87 594.19 L407.78 594.34 L408.69 594.48 L409.6 594.62 L410.51 594.76 L411.41 594.88 L412.32 595.01 L413.23 595.13 L414.14 595.24 L415.05 595.35 L415.96 595.46 L416.87 595.56 L417.77 595.67 L418.68 595.77 L419.59 595.87 L420.5 595.97" fill="none" stroke="#1a8a1a" stroke-width="1.15" stroke-linejoin="round" clip-path="url(#c6)"/>
<path d="M311.74 599.67 L312.66 599.01 L313.57 598.35 L314.49 597.68 L315.4 597 L316.31 596.31 L317.23 595.61 L318.14 594.89 L319.06 594.17 L319.97 593.45 L320.88 592.72 L321.8 591.99 L322.71 591.27 L323.62 590.56 L324.54 589.86 L325.45 589.18 L326.37 588.51 L327.28 587.86 L328.19 587.24 L329.11 586.65 L330.02 586.09 L330.94 585.55 L331.85 585.03 L332.76 584.53 L333.68 584.05 L334.59 583.57 L335.51 583.09 L336.42 582.61 L337.33 582.13 L338.25 581.64 L339.16 581.14 L340.08 580.62 L340.99 580.1 L341.9 579.58 L342.82 579.05 L343.73 578.53 L344.64 578.01 L345.56 577.5 L346.47 577 L347.39 576.51 L348.3 576.03 L349.21 575.56 L350.13 575.1 L351.04 574.65 L351.96 574.21 L352.87 573.78 L353.78 573.36 L354.7 572.94 L355.61 572.54 L356.53 572.14 L357.44 571.74 L358.35 571.35 L359.27 570.97 L360.18 570.6 L361.1 570.23 L362.01 569.86 L362.92 569.5 L363.84 569.14 L364.75 568.79 L365.67 568.44 L366.58 568.09 L367.49 567.75 L368.41 567.4 L369.32 567.06 L370.23 566.72 L371.15 566.39 L372.06 566.05 L372.98 565.71 L373.89 565.37 L374.8 565.03 L375.72 564.69 L376.63 564.35 L377.55 564.01 L378.46 563.68 L379.37 563.34 L380.29 563.01 L381.2 562.67 L382.12 562.35 L383.03 562.02 L383.94 561.7 L384.86 561.38 L385.77 561.07 L386.69 560.76 L387.6 560.46 L388.51 560.16 L389.43 559.87 L390.34 559.58 L391.25 559.3 L392.17 559.03 L393.08 558.77 L394 558.51 L394.91 558.26 L395.82 558.01 L396.74 557.77 L397.65 557.54 L398.57 557.31 L399.48 557.08 L400.39 556.86 L401.31 556.64 L402.22 556.42 L403.14 556.21 L404.05 556 L404.96 555.79 L405.88 555.59 L406.79 555.38 L407.71 555.18 L408.62 554.98 L409.53 554.78 L410.45 554.58 L411.36 554.38 L412.27 554.18 L413.19 553.99 L414.1 553.79 L415.02 553.59 L415.93 553.4 L416.84 553.2 L417.76 553 L418.67 552.81 L419.59 552.61 L420.5 552.42" fill="none" stroke="#ff8a1a" stroke-width="1.15" stroke-linejoin="round" clip-path="url(#c6)"/>
<path d="M261.5 528.53 L262.84 529.63 L264.17 530.73 L265.51 531.84 L266.84 532.95 L268.18 534.06 L269.52 535.17 L270.85 536.29 L272.19 537.41 L273.53 538.53 L274.86 539.66 L276.2 540.8 L277.53 541.95 L278.87 543.1 L280.21 544.25 L281.54 545.41 L282.88 546.56 L284.21 547.7 L285.55 548.83 L286.89 549.95 L288.22 551.04 L289.56 552.1 L290.89 553.13 L292.23 554.13 L293.57 555.09 L294.9 556.01 L296.24 556.9 L297.58 557.75 L298.91 558.57 L300.25 559.36 L301.58 560.13 L302.92 560.88 L304.26 561.61 L305.59 562.31 L306.93 563.01 L308.26 563.68 L309.6 564.35 L310.94 565.02 L312.27 565.67 L313.61 566.32 L314.95 566.95 L316.28 567.58 L317.62 568.2 L318.95 568.81 L320.29 569.41 L321.63 569.99 L322.96 570.56 L324.3 571.12 L325.63 571.66 L326.97 572.19 L328.31 572.7 L329.64 573.19 L330.98 573.66 L332.32 574.1 L333.65 574.5 L334.99 574.85 L336.32 575.16 L337.66 575.39 L339 575.56 L340.33 575.66 L341.67 575.7 L343 575.67 L344.34 575.58 L345.68 575.43 L347.01 575.18 L348.35 574.83 L349.68 574.38 L351.02 573.84 L352.36 573.26 L353.69 572.66 L355.03 572.06 L356.37 571.48 L357.7 570.91 L359.04 570.35 L360.37 569.8 L361.71 569.26 L363.05 568.73 L364.38 568.21 L365.72 567.7 L367.05 567.19 L368.39 566.68 L369.73 566.18 L371.06 565.68 L372.4 565.18 L373.74 564.69 L375.07 564.19 L376.41 563.69 L377.74 563.2 L379.08 562.7 L380.42 562.21 L381.75 561.73 L383.09 561.26 L384.42 560.79 L385.76 560.33 L387.1 559.88 L388.43 559.44 L389.77 559.02 L391.11 558.61 L392.44 558.21 L393.78 557.83 L395.11 557.47 L396.45 557.11 L397.79 556.76 L399.12 556.43 L400.46 556.1 L401.79 555.78 L403.13 555.47 L404.47 555.16 L405.8 554.86 L407.14 554.57 L408.47 554.27 L409.81 553.98 L411.15 553.69 L412.48 553.4 L413.82 553.11 L415.16 552.82 L416.49 552.53 L417.83 552.25 L419.16 551.96 L420.5 551.68" fill="none" stroke="#111111" stroke-width="1.3" stroke-linejoin="round"/>
<path d="M261.5 548.29 L262.84 547.78 L264.17 547.27 L265.51 546.76 L266.84 546.25 L268.18 545.75 L269.52 545.25 L270.85 544.75 L272.19 544.27 L273.53 543.79 L274.86 543.31 L276.2 542.85 L277.53 542.39 L278.87 541.95 L280.21 541.52 L281.54 541.1 L282.88 540.68 L284.21 540.28 L285.55 539.89 L286.89 539.51 L288.22 539.13 L289.56 538.77 L290.89 538.42 L292.23 538.07 L293.57 537.73 L294.9 537.4 L296.24 537.08 L297.58 536.77 L298.91 536.46 L300.25 536.16 L301.58 535.86 L302.92 535.58 L304.26 535.29 L305.59 535.01 L306.93 534.74 L308.26 534.46 L309.6 534.2 L310.94 533.93 L312.27 533.67 L313.61 533.41 L314.95 533.15 L316.28 532.9 L317.62 532.65 L318.95 532.41 L320.29 532.17 L321.63 531.93 L322.96 531.7 L324.3 531.48 L325.63 531.26 L326.97 531.04 L328.31 530.84 L329.64 530.64 L330.98 530.44 L332.32 530.26 L333.65 530.07 L334.99 529.89 L336.32 529.71 L337.66 529.53 L339 529.35 L340.33 529.17 L341.67 528.99 L343 528.8 L344.34 528.61 L345.68 528.41 L347.01 528.21 L348.35 528 L349.68 527.78 L351.02 527.57 L352.36 527.35 L353.69 527.14 L355.03 526.94 L356.37 526.74 L357.7 526.54 L359.04 526.36 L360.37 526.19 L361.71 526.03 L363.05 525.88 L364.38 525.74 L365.72 525.61 L367.05 525.48 L368.39 525.36 L369.73 525.25 L371.06 525.14 L372.4 525.04 L373.74 524.93 L375.07 524.83 L376.41 524.73 L377.74 524.63 L379.08 524.52 L380.42 524.42 L381.75 524.32 L383.09 524.22 L384.42 524.12 L385.76 524.02 L387.1 523.92 L388.43 523.83 L389.77 523.73 L391.11 523.63 L392.44 523.53 L393.78 523.43 L395.11 523.33 L396.45 523.23 L397.79 523.13 L399.12 523.04 L400.46 522.95 L401.79 522.86 L403.13 522.77 L404.47 522.69 L405.8 522.61 L407.14 522.53 L408.47 522.46 L409.81 522.4 L411.15 522.34 L412.48 522.28 L413.82 522.22 L415.16 522.17 L416.49 522.12 L417.83 522.07 L419.16 522.02 L420.5 521.97" fill="none" stroke="#0000ff" stroke-width="1.15" stroke-linejoin="round"/>
<path d="M261.5 457.06 L262.84 458.06 L264.17 459.06 L265.51 460.08 L266.84 461.12 L268.18 462.18 L269.52 463.28 L270.85 464.42 L272.19 465.61 L273.53 466.85 L274.86 468.15 L276.2 469.51 L277.53 470.91 L278.87 472.35 L280.21 473.8 L281.54 475.26 L282.88 476.72 L284.21 478.17 L285.55 479.59 L286.89 480.98 L288.22 482.32 L289.56 483.59 L290.89 484.8 L292.23 485.94 L293.57 487.05 L294.9 488.14 L296.24 489.23 L297.58 490.31 L298.91 491.38 L300.25 492.43 L301.58 493.47 L302.92 494.49 L304.26 495.5 L305.59 496.49 L306.93 497.47 L308.26 498.44 L309.6 499.4 L310.94 500.34 L312.27 501.27 L313.61 502.18 L314.95 503.08 L316.28 503.97 L317.62 504.85 L318.95 505.71 L320.29 506.57 L321.63 507.41 L322.96 508.23 L324.3 509.05 L325.63 509.85 L326.97 510.64 L328.31 511.42 L329.64 512.19 L330.98 512.95 L332.32 513.69 L333.65 514.42 L334.99 515.14 L336.32 515.85 L337.66 516.55 L339 517.24 L340.33 517.92 L341.67 518.59 L343 519.24 L344.34 519.89 L345.68 520.52 L347.01 521.15 L348.35 521.76 L349.68 522.37 L351.02 522.96 L352.36 523.55 L353.69 524.12 L355.03 524.69 L356.37 525.24 L357.7 525.79 L359.04 526.33 L360.37 526.85 L361.71 527.37 L363.05 527.88 L364.38 528.38 L365.72 528.87 L367.05 529.36 L368.39 529.83 L369.73 530.3 L371.06 530.76 L372.4 531.2 L373.74 531.65 L375.07 532.08 L376.41 532.5 L377.74 532.92 L379.08 533.33 L380.42 533.73 L381.75 534.13 L383.09 534.52 L384.42 534.9 L385.76 535.27 L387.1 535.63 L388.43 535.99 L389.77 536.34 L391.11 536.69 L392.44 537.03 L393.78 537.36 L395.11 537.69 L396.45 538 L397.79 538.32 L399.12 538.62 L400.46 538.93 L401.79 539.22 L403.13 539.51 L404.47 539.79 L405.8 540.07 L407.14 540.34 L408.47 540.61 L409.81 540.87 L411.15 541.13 L412.48 541.38 L413.82 541.63 L415.16 541.87 L416.49 542.11 L417.83 542.34 L419.16 542.57 L420.5 542.79" fill="none" stroke="#ff0000" stroke-width="1.15" stroke-linejoin="round"/>
<path d="M277.4 527.8 V536.5" stroke="#111" stroke-width="0.9" fill="none"/>
<path d="M277.4 541.5 L275.3 534.7 L279.5 534.7 Z" fill="#111"/>
<path d="M358.8 512.9 V520.2" stroke="#111" stroke-width="0.9" fill="none"/>
<path d="M358.8 525.2 L356.7 518.4 L360.9 518.4 Z" fill="#111"/>
<text x="299" y="464.7" font-size="13.3" text-anchor="start">x<tspan font-size="8.6" dy="3.3">Cd</tspan><tspan dy="-3.3" dx="0.9">=0.43</tspan></text>
<text x="299" y="484" font-size="13.3" text-anchor="start">t=4 nm</text>
<text x="388.8" y="483" font-size="24" text-anchor="start">(f)</text>
<text x="281.2" y="503.2" font-size="11" text-anchor="start">E2</text>
<text x="308.7" y="529.3" font-size="11" text-anchor="start">H1</text>
<text x="320.2" y="545.7" font-size="11" text-anchor="start">H2</text>
<text x="281.2" y="567.2" font-size="11" text-anchor="start">E1</text>
<text x="347.1" y="565.9" font-size="11" text-anchor="start">H3</text>
<text x="358.1" y="582" font-size="11" text-anchor="start">H4</text>
<text x="342" y="626.6" font-size="15.2" text-anchor="middle">well width d (nm)</text>
<text transform="translate(40.6 151.8) rotate(-90)" font-size="15.2" text-anchor="middle">energy (meV)</text>
<text transform="translate(40.6 338.2) rotate(-90)" font-size="15.2" text-anchor="middle">energy (meV)</text>
<text transform="translate(40 513.3) rotate(-90)" font-size="15.2" text-anchor="middle">energy (meV)</text>
</svg>
</body></html>
